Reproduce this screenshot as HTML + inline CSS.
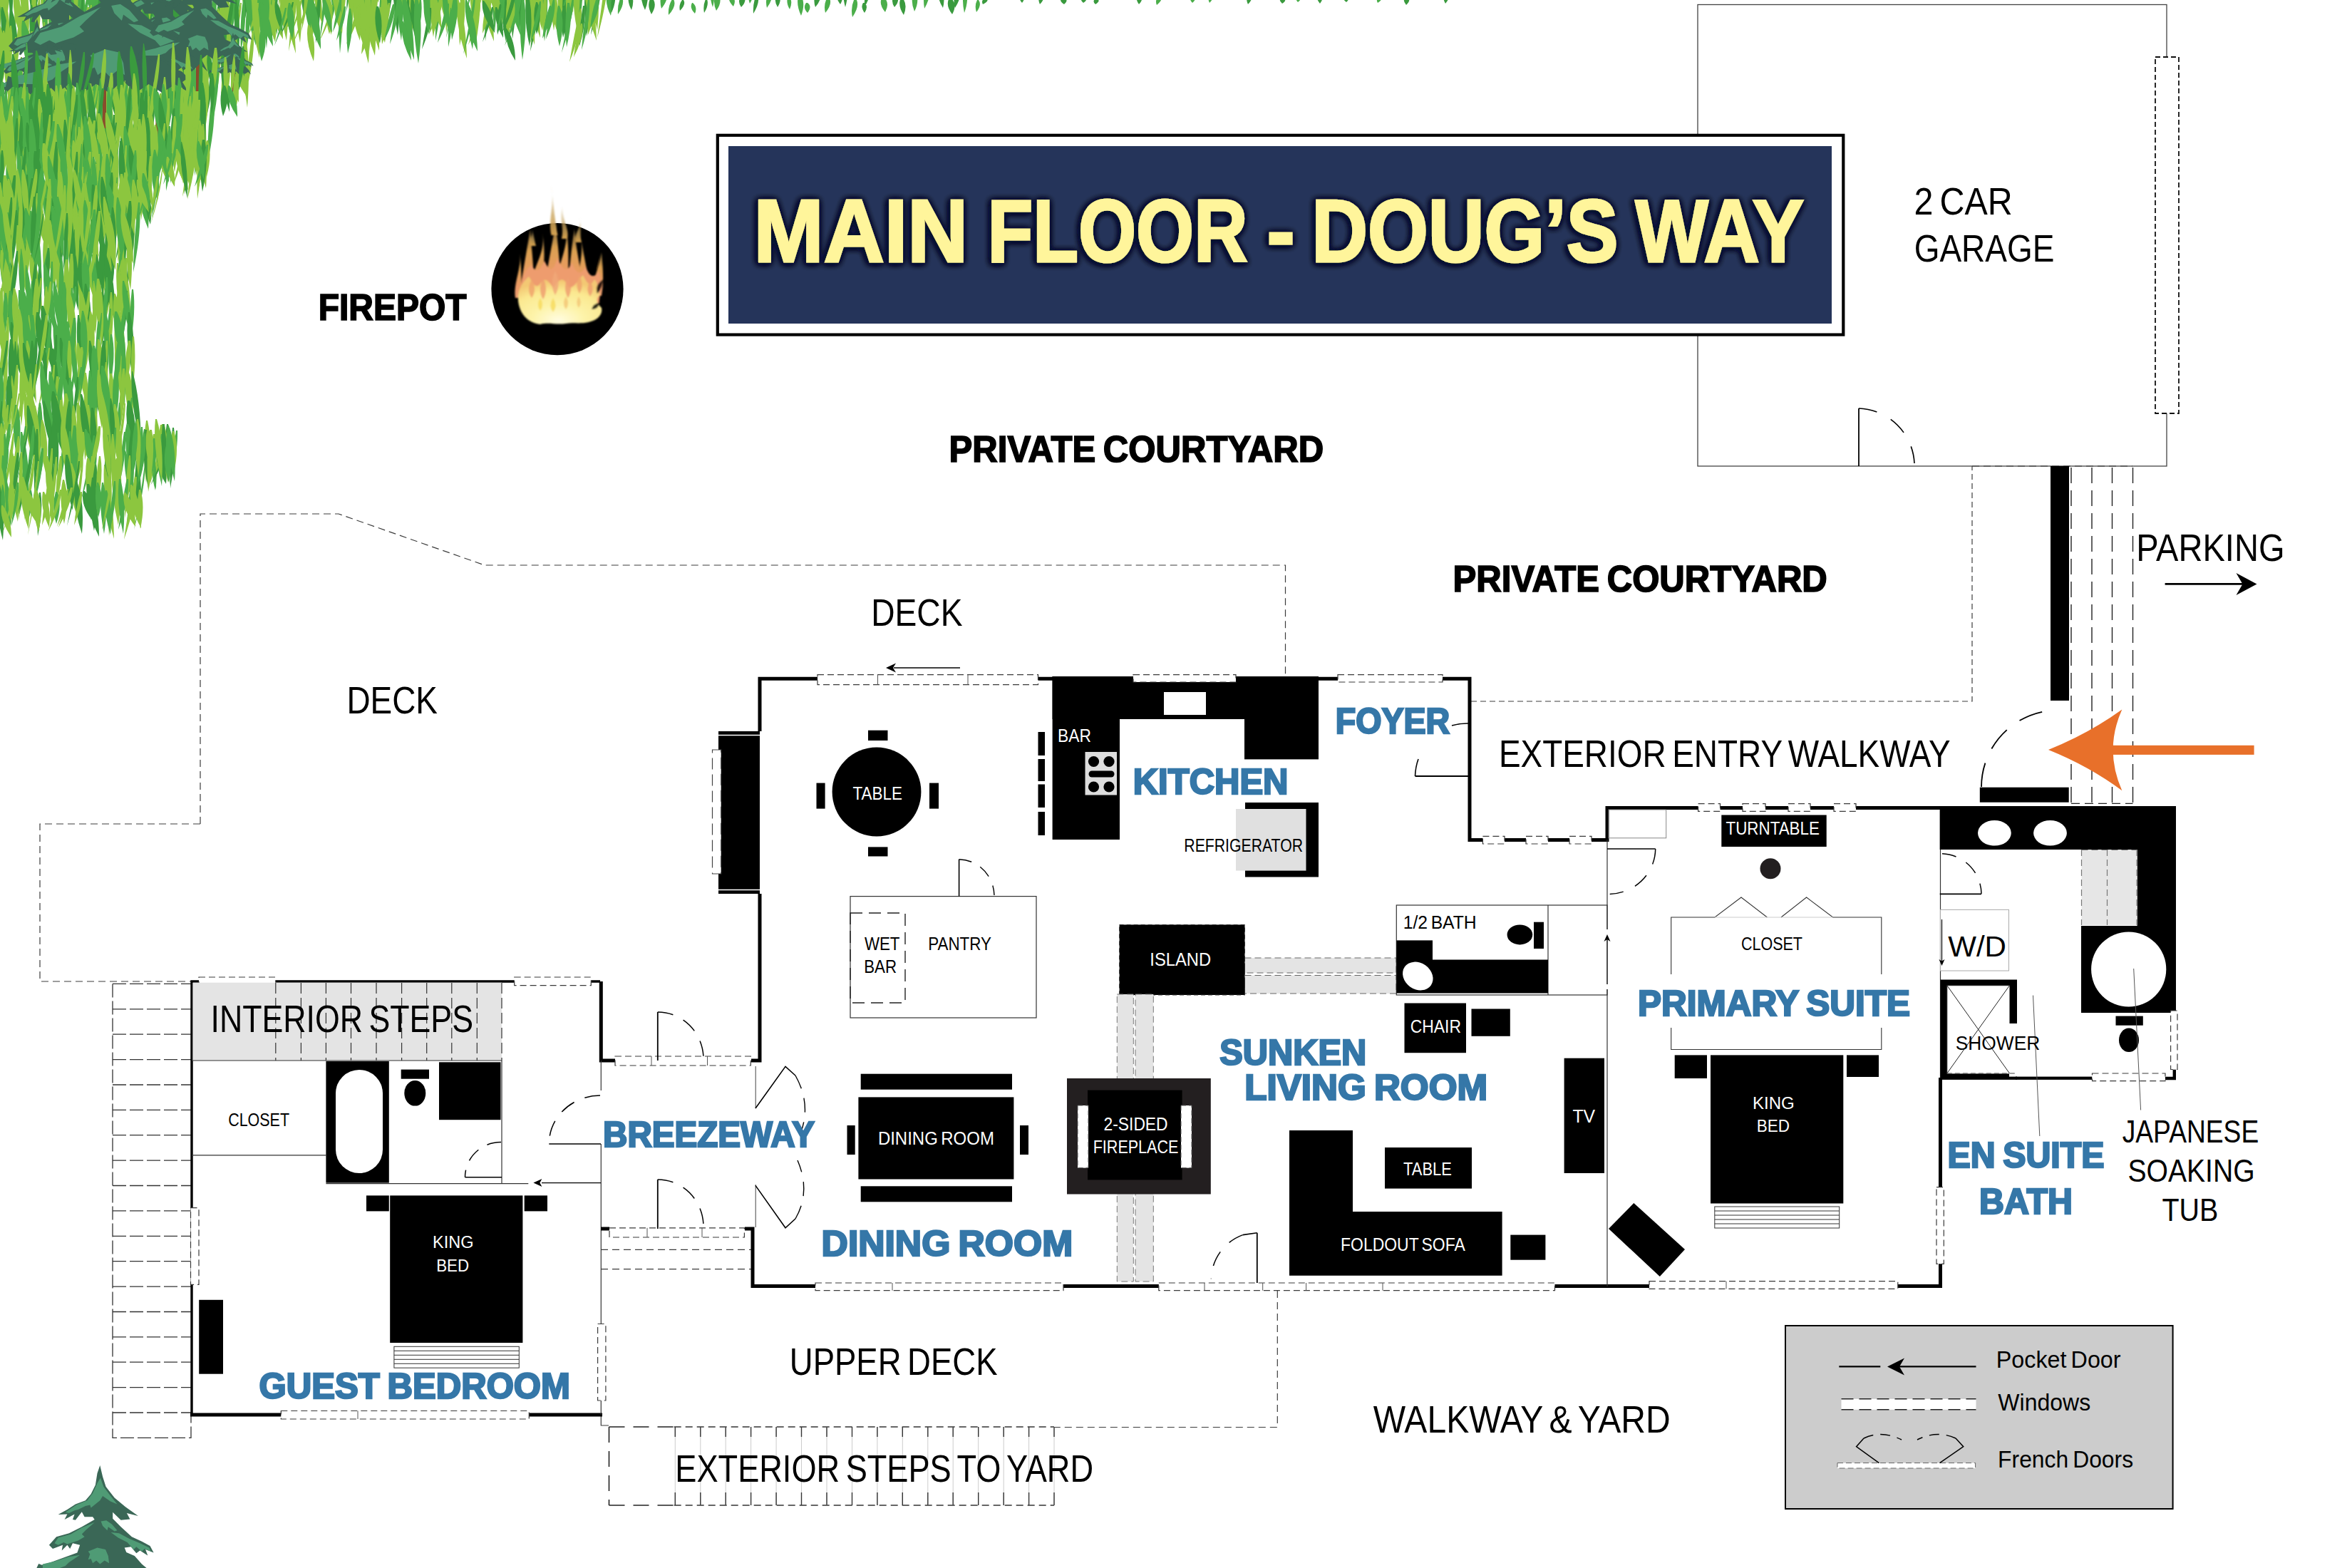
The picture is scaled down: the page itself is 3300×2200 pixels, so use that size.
<!DOCTYPE html>
<html><head><meta charset="utf-8"><title>Main Floor - Doug's Way</title>
<style>html,body{margin:0;padding:0;background:#fff}svg{display:block}text{font-family:"Liberation Sans", sans-serif}</style>
</head><body>
<svg width="3300" height="2200" viewBox="0 0 3300 2200">
<rect x="0.0" y="0.0" width="3300.0" height="2200.0" fill="#fff"/>
<path d="M28 -84q-6 35 -3 77q11 -46 5 -77zM34 -86q-5 36 7 80q6 -48 -5 -80zM45 -91q-4 43 -0 96q7 -58 2 -96zM52 -75q-7 41 -7 90q14 -54 9 -90zM58 -81q-5 39 16 86q1 -52 -14 -86zM92 -69q-5 38 2 85q7 -51 -0 -85zM105 -90q-5 44 -4 98q10 -59 6 -98zM158 -87q-5 44 9 98q5 -59 -6 -98zM164 -86q-5 32 -8 71q11 -43 10 -71zM183 -90q-5 39 11 87q3 -52 -9 -87zM207 -84q-6 45 6 99q7 -59 -3 -99zM238 -75q-4 44 -1 98q8 -59 3 -98zM244 -89q-4 40 10 88q3 -53 -8 -88zM249 -79q-6 36 0 80q9 -48 2 -80zM256 -80q-6 38 0 86q9 -51 2 -86zM274 -90q-5 38 -9 85q12 -51 11 -85zM288 -82q-3 47 16 104q-2 -62 -14 -104zM391 -69q-3 39 17 86q-2 -51 -15 -86zM418 -75q-8 37 -13 81q17 -49 15 -81zM438 -79q-3 37 12 83q0 -50 -10 -83zM444 -73q-7 42 -18 94q18 -56 20 -94zM460 -74q-5 38 7 83q5 -50 -5 -83zM473 -76q-5 32 -8 70q11 -42 10 -70zM516 -92q-4 37 12 82q1 -49 -10 -82zM546 -69q-4 44 15 98q1 -59 -13 -98zM553 -74q-6 32 -2 72q10 -43 4 -72zM586 -82q-6 45 -3 101q11 -61 6 -101zM618 -69q-5 34 7 75q5 -45 -4 -75zM635 -79q-6 43 -15 94q15 -57 17 -94zM656 -80q-6 43 -17 95q17 -57 19 -95zM667 -73q-7 38 -11 85q15 -51 13 -85zM738 -69q-6 46 -8 101q12 -61 10 -101zM743 -92q-6 43 -8 95q12 -57 10 -95zM758 -82q-6 47 -9 103q13 -62 11 -103zM776 -91q-6 43 -16 96q16 -58 17 -96zM810 -73q-6 47 -10 105q14 -63 12 -105zM822 -69q-5 36 -11 80q13 -48 13 -80zM852 -83q-6 40 -14 89q14 -54 16 -89z" fill="#4bae4a"/>
<path d="M5 -89q-4 33 12 73q2 -44 -10 -73zM12 -69q-6 46 -4 103q11 -62 6 -103zM24 -79q-6 41 -5 90q12 -54 7 -90zM40 -68q-7 45 -8 101q14 -60 10 -101zM63 -72q-4 43 18 95q-1 -57 -15 -95zM68 -88q-4 42 -1 93q7 -56 3 -93zM83 -69q-3 38 14 85q0 -51 -12 -85zM87 -78q-5 35 -1 78q8 -47 2 -78zM109 -84q-6 33 -12 72q14 -43 14 -72zM120 -83q-5 34 -5 75q10 -45 7 -75zM127 -90q-5 47 -1 105q9 -63 3 -105zM171 -69q-5 39 18 86q1 -51 -15 -86zM218 -86q-7 45 -10 101q16 -60 13 -101zM234 -81q-7 40 -17 89q18 -53 19 -89zM269 -72q-4 36 16 79q-0 -47 -14 -79zM280 -76q-4 46 8 101q3 -61 -6 -101zM295 -80q-5 45 -2 99q8 -59 4 -99zM300 -79q-8 37 -17 81q19 -49 20 -81zM316 -72q-4 34 15 75q-0 -45 -13 -75zM321 -90q-5 46 7 102q5 -61 -5 -102zM332 -81q-3 45 13 100q-1 -60 -11 -100zM338 -79q-6 46 -13 102q15 -61 15 -102zM343 -85q-5 34 -11 76q12 -45 12 -76zM350 -84q-6 36 -12 80q15 -48 14 -80zM355 -87q-6 32 2 71q8 -42 1 -71zM374 -91q-6 42 -5 92q11 -55 7 -92zM386 -85q-6 42 -9 93q13 -56 11 -93zM396 -92q-5 47 -5 104q10 -62 7 -104zM401 -92q-4 39 0 88q7 -53 2 -88zM406 -85q-6 38 -17 84q16 -50 19 -84zM433 -86q-5 46 7 101q5 -61 -5 -101zM450 -74q-7 40 -16 89q18 -53 18 -89zM467 -74q-5 33 -9 73q12 -44 11 -73zM479 -81q-5 36 -1 80q9 -48 3 -80zM487 -92q-5 35 16 77q2 -46 -13 -77zM498 -69q-4 41 1 90q6 -54 1 -90zM511 -81q-4 32 -0 71q6 -43 2 -71zM523 -70q-6 33 8 74q6 -45 -5 -74zM528 -83q-6 38 3 84q9 -50 -1 -84zM558 -81q-8 32 -13 72q18 -43 16 -72zM563 -76q-7 43 -9 96q15 -58 11 -96zM575 -81q-5 35 18 78q0 -47 -15 -78zM580 -86q-6 33 -15 73q16 -44 17 -73zM591 -69q-5 37 -8 82q11 -49 10 -82zM597 -85q-7 41 -10 92q16 -55 13 -92zM603 -71q-5 39 13 86q3 -51 -10 -86zM607 -78q-6 43 -1 95q11 -57 3 -95zM613 -69q-5 46 13 102q3 -61 -10 -102zM629 -89q-6 46 -7 102q13 -61 9 -102zM641 -85q-7 35 -18 78q19 -47 20 -78zM648 -86q-6 42 -1 93q11 -56 3 -93zM661 -87q-4 36 15 79q1 -47 -13 -79zM673 -72q-7 35 -7 77q14 -46 9 -77zM678 -80q-3 43 16 97q-1 -58 -14 -97zM683 -88q-4 38 16 85q0 -51 -14 -85zM688 -91q-6 47 -16 104q16 -62 18 -104zM695 -70q-4 45 18 101q-0 -61 -16 -101zM700 -76q-8 46 -17 103q19 -62 19 -103zM705 -85q-6 37 -18 82q17 -49 20 -82zM731 -70q-6 32 -16 71q15 -43 17 -71zM750 -86q-8 41 -17 92q20 -55 20 -92zM771 -73q-5 37 -5 81q10 -49 7 -81zM781 -86q-5 47 18 104q0 -63 -15 -104zM786 -86q-6 39 -2 87q10 -52 4 -87zM792 -76q-5 42 12 94q3 -56 -10 -94zM799 -74q-6 36 -5 80q11 -48 7 -80zM804 -78q-3 35 14 79q-1 -47 -12 -79zM836 -87q-5 33 4 74q6 -44 -2 -74zM841 -76q-4 35 4 77q5 -46 -2 -77zM845 -85q-7 37 -11 81q15 -49 14 -81z" fill="#8cc63f"/>
<path d="M19 -85q-6 36 -14 80q14 -48 15 -80zM73 -83q-5 44 -9 97q12 -58 11 -97zM77 -72q-4 39 14 86q1 -51 -12 -86zM98 -70q-7 41 -16 92q18 -55 18 -92zM114 -91q-5 34 -5 75q9 -45 7 -75zM132 -91q-7 36 -12 79q17 -48 15 -79zM138 -79q-7 34 -17 75q18 -45 19 -75zM145 -88q-5 42 -5 94q10 -57 7 -94zM151 -73q-6 44 -10 97q13 -58 12 -97zM176 -77q-5 35 -11 78q13 -47 12 -78zM190 -88q-6 44 -1 97q10 -58 3 -97zM196 -82q-7 44 -4 98q12 -59 6 -98zM202 -70q-5 34 -13 76q14 -46 14 -76zM212 -79q-6 32 5 70q7 -42 -3 -70zM223 -89q-5 41 -3 91q9 -54 5 -91zM228 -82q-4 39 15 86q1 -52 -12 -86zM262 -75q-4 40 16 89q-0 -53 -14 -89zM304 -90q-6 37 0 82q9 -49 2 -82zM311 -91q-5 47 -8 104q11 -62 10 -104zM328 -77q-3 38 16 85q-2 -51 -14 -85zM362 -80q-6 33 -2 74q11 -44 5 -74zM368 -84q-4 39 17 88q-0 -53 -15 -88zM379 -90q-6 43 -12 96q14 -58 14 -96zM412 -75q-5 40 6 89q6 -53 -3 -89zM422 -74q-6 45 5 99q8 -60 -2 -99zM427 -73q-4 40 12 88q2 -53 -10 -88zM455 -74q-7 36 -11 79q15 -48 13 -79zM494 -87q-6 47 -8 104q13 -62 10 -104zM505 -86q-6 40 7 88q6 -53 -5 -88zM534 -85q-3 32 12 72q0 -43 -10 -72zM539 -83q-6 36 -11 79q15 -48 13 -79zM569 -87q-6 38 -12 84q14 -50 14 -84zM624 -91q-5 44 2 97q7 -58 0 -97zM712 -83q-8 33 -11 74q16 -45 13 -74zM719 -83q-4 38 -1 85q7 -51 3 -85zM724 -82q-8 37 -17 83q19 -50 19 -83zM765 -72q-5 34 9 76q5 -46 -6 -76zM817 -72q-4 33 11 74q2 -44 -9 -74zM829 -86q-6 37 -2 83q11 -50 4 -83z" fill="#3a9a3e"/>
<path d="M13 -43q-4 33 3 74q5 -44 -1 -74zM41 -37q-4 43 14 95q1 -57 -12 -95zM54 -29q-6 34 -13 75q15 -45 15 -75zM77 -32q-5 39 4 86q6 -52 -2 -86zM84 -43q-5 38 -5 84q9 -50 7 -84zM97 -36q-5 33 14 73q2 -44 -12 -73zM155 -45q-5 47 1 104q7 -62 1 -104zM180 -43q-6 38 -13 84q15 -51 15 -84zM229 -49q-4 47 5 105q5 -63 -3 -105zM243 -30q-7 46 -7 102q14 -61 10 -102zM266 -46q-2 32 16 70q-3 -42 -15 -70zM282 -51q-6 42 -16 93q15 -56 17 -93zM289 -36q-6 35 1 77q10 -46 1 -77zM314 -34q-8 37 -16 82q19 -49 19 -82zM320 -34q-6 41 -8 91q13 -55 10 -91zM348 -48q-7 44 -10 99q16 -59 12 -99zM365 -48q-5 36 2 81q7 -48 0 -81zM388 -34q-6 42 -8 94q13 -57 10 -94zM419 -46q-8 36 -18 79q19 -47 20 -79zM445 -52q-6 34 -1 75q10 -45 3 -75zM507 -32q-4 44 6 99q4 -59 -4 -99zM549 -41q-7 41 -11 90q16 -54 14 -90zM554 -35q-5 38 4 84q6 -50 -2 -84zM569 -40q-5 45 2 99q7 -59 0 -99zM704 -31q-5 40 6 90q5 -54 -4 -90zM720 -48q-6 46 -1 103q10 -62 3 -103zM724 -41q-3 47 11 103q1 -62 -9 -103zM757 -29q-8 46 -13 101q18 -61 15 -101zM790 -43q-4 44 3 98q6 -59 -1 -98zM823 -32q-6 37 -0 83q10 -50 3 -83zM836 -48q-6 33 0 73q10 -44 2 -73zM841 -29q-7 35 -12 78q16 -47 14 -78z" fill="#3a9a3e"/>
<path d="M1 -52q-7 43 -3 96q12 -58 6 -96zM17 -42q-3 32 11 72q1 -43 -9 -72zM36 -37q-7 32 -7 72q14 -43 9 -72zM108 -36q-5 36 11 80q4 -48 -8 -80zM113 -44q-6 45 -9 99q14 -59 11 -99zM120 -40q-3 39 17 86q-2 -52 -15 -86zM127 -42q-6 35 -11 78q14 -47 13 -78zM132 -46q-4 37 11 81q2 -49 -9 -81zM136 -39q-7 45 -2 100q11 -60 4 -100zM167 -51q-6 41 -5 92q11 -55 7 -92zM174 -45q-4 32 2 72q5 -43 -1 -72zM196 -38q-5 46 3 101q7 -61 -1 -101zM213 -42q-5 40 5 88q6 -53 -3 -88zM225 -50q-4 37 15 83q-0 -50 -13 -83zM237 -37q-6 46 -16 103q16 -62 18 -103zM303 -34q-7 46 -15 102q18 -61 17 -102zM325 -51q-4 40 -1 88q7 -53 3 -88zM331 -42q-6 45 -8 99q13 -59 10 -99zM336 -50q-5 43 -5 96q9 -58 7 -96zM343 -40q-4 47 16 104q-0 -62 -14 -104zM360 -42q-5 46 9 102q5 -61 -6 -102zM371 -35q-4 46 3 103q5 -62 -2 -103zM376 -41q-4 41 13 90q1 -54 -11 -90zM426 -36q-4 41 12 91q2 -54 -10 -91zM458 -47q-5 46 -9 102q12 -61 11 -102zM471 -44q-7 32 -5 71q12 -42 7 -71zM477 -30q-4 47 0 105q7 -63 1 -105zM501 -47q-3 46 11 103q1 -62 -9 -103zM520 -28q-5 35 7 78q6 -47 -4 -78zM537 -29q-6 33 -6 73q12 -44 8 -73zM558 -45q-5 46 5 102q6 -61 -3 -102zM593 -50q-5 43 11 96q4 -57 -8 -96zM611 -43q-5 35 -8 79q11 -47 9 -79zM617 -47q-7 47 -6 104q13 -63 8 -104zM639 -36q-6 40 -13 89q15 -53 15 -89zM664 -30q-5 32 3 71q7 -42 -1 -71zM682 -31q-4 40 -1 89q7 -54 3 -89zM692 -41q-4 39 2 87q6 -52 -1 -87zM699 -49q-5 37 7 83q6 -50 -5 -83zM709 -36q-3 32 14 71q-1 -43 -12 -71zM714 -32q-4 36 16 81q-0 -49 -14 -81zM730 -45q-7 36 -6 80q13 -48 8 -80zM763 -39q-5 44 1 97q8 -58 1 -97zM780 -42q-6 40 -16 89q16 -53 18 -89zM802 -45q-6 33 -17 73q17 -44 19 -73zM814 -38q-4 36 -2 80q8 -48 4 -80zM846 -46q-2 24 15 54q-2 -32 -13 -54z" fill="#4bae4a"/>
<path d="M-4 -36q-3 38 18 84q-2 -50 -16 -84zM8 -29q-5 42 -3 93q10 -56 5 -93zM25 -48q-5 43 -5 96q10 -57 7 -96zM29 -33q-5 38 11 83q4 -50 -8 -83zM47 -38q-5 41 -1 92q8 -55 3 -92zM59 -36q-6 45 6 101q6 -61 -4 -101zM65 -36q-5 39 10 86q4 -52 -8 -86zM70 -48q-5 38 0 84q8 -50 2 -84zM90 -30q-5 42 -13 93q14 -56 15 -93zM101 -49q-5 33 7 72q5 -43 -5 -72zM143 -34q-4 35 13 79q1 -47 -11 -79zM149 -50q-5 37 -6 83q10 -50 8 -83zM162 -34q-5 46 8 102q5 -61 -6 -102zM185 -41q-5 32 7 70q6 -42 -5 -70zM189 -29q-4 42 11 93q1 -56 -9 -93zM202 -51q-5 34 -16 76q15 -45 17 -76zM207 -36q-4 46 4 102q4 -61 -2 -102zM218 -35q-4 33 18 72q-1 -43 -16 -72zM248 -32q-3 39 15 88q-1 -53 -13 -88zM253 -38q-5 46 -4 102q9 -61 6 -102zM260 -39q-5 46 12 102q4 -61 -10 -102zM272 -48q-5 38 2 84q7 -50 -0 -84zM277 -35q-3 41 17 92q-3 -55 -15 -92zM295 -47q-6 43 -9 95q13 -57 11 -95zM308 -45q-6 34 5 75q7 -45 -3 -75zM355 -49q-6 39 2 87q9 -52 0 -87zM381 -46q-7 39 -9 86q14 -52 11 -86zM394 -38q-6 43 8 95q6 -57 -5 -95zM399 -28q-3 47 16 103q-2 -62 -15 -103zM405 -45q-6 35 -13 77q14 -46 14 -77zM410 -31q-7 33 -8 74q15 -44 10 -74zM415 -28q-6 45 -10 100q14 -60 12 -100zM433 -48q-6 42 -10 92q14 -55 12 -92zM438 -46q-4 36 14 79q1 -47 -12 -79zM451 -44q-5 42 14 93q2 -56 -12 -93zM465 -41q-4 35 12 77q1 -46 -11 -77zM483 -51q-5 42 -4 92q10 -55 6 -92zM490 -49q-5 41 3 92q8 -55 -1 -92zM496 -29q-5 47 18 103q1 -62 -15 -103zM513 -33q-5 47 5 105q7 -63 -3 -105zM526 -36q-7 44 -5 98q13 -59 8 -98zM532 -48q-3 41 14 92q-1 -55 -13 -92zM542 -50q-7 41 -10 90q15 -54 13 -90zM563 -49q-6 33 6 73q6 -44 -4 -73zM575 -34q-4 35 4 79q5 -47 -2 -79zM581 -41q-6 42 -7 94q12 -57 9 -94zM588 -36q-5 42 -5 94q10 -56 7 -94zM599 -49q-5 34 -3 75q9 -45 5 -75zM606 -30q-6 37 2 82q9 -49 0 -82zM621 -29q-7 35 -13 77q17 -46 16 -77zM629 -38q-6 38 -3 84q10 -50 6 -84zM633 -34q-6 32 -1 72q10 -43 3 -72zM646 -37q-4 33 5 73q4 -44 -3 -73zM653 -30q-6 27 -14 60q16 -36 16 -60zM660 -31q-4 34 8 75q3 -45 -6 -75zM670 -35q-6 44 -3 99q11 -59 5 -99zM675 -36q-4 42 18 94q-1 -56 -16 -94zM687 -31q-4 32 18 70q-1 -42 -15 -70zM737 -35q-4 44 13 98q2 -59 -11 -98zM741 -46q-4 45 17 99q-1 -59 -15 -99zM747 -35q-5 44 -2 97q8 -58 4 -97zM752 -33q-5 34 9 76q5 -45 -7 -76zM768 -45q-4 44 17 98q-0 -59 -15 -98zM774 -52q-6 43 3 95q9 -57 -1 -95zM785 -47q-5 45 0 99q8 -59 2 -99zM797 -31q-6 35 -0 79q10 -47 3 -79zM807 -38q-6 35 2 77q9 -46 0 -77zM819 -43q-3 45 18 100q-2 -60 -16 -100zM831 -50q-6 42 7 92q6 -55 -5 -92zM852 -44q-7 43 -14 97q16 -58 16 -97z" fill="#8cc63f"/>
<path d="M-4 -3q-6 38 -1 85q10 -51 3 -85zM7 8q-7 46 -12 102q16 -61 15 -102zM19 -4q-2 32 17 71q-3 -42 -15 -71zM24 -8q-4 37 8 83q3 -50 -7 -83zM31 -6q-5 38 -3 85q9 -51 5 -85zM37 -9q-7 36 -9 80q14 -48 11 -80zM49 11q-3 45 9 99q2 -60 -7 -99zM54 -2q-5 35 -4 78q9 -47 6 -78zM67 -5q-4 38 16 86q1 -51 -14 -86zM83 3q-4 34 6 76q3 -46 -4 -76zM95 11q-4 37 5 82q5 -49 -3 -82zM108 9q-6 32 3 71q8 -43 -0 -71zM122 10q-6 44 3 97q8 -58 -0 -97zM127 7q-7 43 -17 96q18 -57 19 -96zM146 -4q-5 39 -2 86q8 -52 4 -86zM151 6q-5 36 3 80q7 -48 -1 -80zM167 -11q-2 41 17 91q-3 -55 -15 -91zM184 -9q-7 45 -18 100q19 -60 20 -100zM189 -2q-7 35 -10 77q15 -46 12 -77zM196 11q-2 39 17 86q-3 -52 -16 -86zM208 -6q-6 33 -18 74q16 -44 19 -74zM238 8q-5 46 -1 101q8 -61 3 -101zM253 3q-4 32 2 72q5 -43 -0 -72zM267 4q-7 42 -3 94q12 -56 6 -94zM284 -9q-5 33 2 74q7 -44 0 -74zM292 3q-7 34 -8 75q14 -45 10 -75zM305 12q-3 42 9 93q1 -56 -7 -93zM310 -3q-6 40 -2 89q11 -53 5 -89zM317 -6q-6 37 4 82q8 -49 -1 -82zM337 4q-7 38 -17 85q17 -51 19 -85zM355 -10q-5 41 9 91q4 -54 -7 -91zM361 4q-6 20 -12 44q14 -26 14 -44zM378 5q-5 24 8 54q5 -32 -6 -54zM382 -2q-4 26 15 57q0 -34 -13 -57zM394 2q-5 24 -11 53q13 -32 13 -53zM417 -12q-4 32 4 72q5 -43 -3 -72zM423 -6q-6 26 -16 58q15 -35 18 -58zM428 9q-6 24 -18 54q17 -33 20 -54zM440 5q-5 24 -4 54q10 -33 6 -54zM460 -3q-6 23 2 51q9 -31 1 -51zM465 7q-6 23 -17 51q17 -31 19 -51zM470 1q-4 21 10 46q3 -28 -8 -46zM496 4q-3 24 9 53q2 -32 -7 -53zM503 5q-8 26 -17 57q19 -34 19 -57zM507 -6q-5 43 10 95q4 -57 -8 -95zM515 6q-5 33 11 72q4 -43 -8 -72zM521 -2q-4 33 11 73q1 -44 -10 -73zM533 10q-5 22 7 50q6 -30 -4 -50zM540 10q-7 23 -4 52q13 -31 6 -52zM545 4q-7 21 -10 48q14 -29 12 -48zM609 -6q-3 21 10 46q1 -27 -8 -46zM616 3q-6 20 -15 46q16 -27 17 -46zM641 -5q-3 39 14 87q-1 -52 -13 -87zM647 2q-5 28 -2 62q8 -37 4 -62zM672 6q-7 26 -15 57q17 -34 17 -57zM684 3q-7 20 -7 44q13 -26 9 -44zM713 -7q-6 28 -1 63q10 -38 3 -63zM717 -9q-6 25 0 55q10 -33 2 -55zM745 -2q-5 22 2 49q8 -29 -0 -49zM764 -6q-5 22 -2 50q8 -30 4 -50zM809 11q-3 19 7 43q2 -26 -6 -43zM814 12q-8 34 -15 75q18 -45 17 -75zM830 -3q-7 24 -5 52q13 -31 8 -52z" fill="#8cc63f"/>
<path d="M2 10q-4 37 11 83q2 -50 -9 -83zM14 11q-5 37 10 83q4 -50 -8 -83zM43 7q-5 34 5 75q6 -45 -3 -75zM89 8q-6 32 1 70q9 -42 2 -70zM115 -6q-5 47 -5 104q9 -62 7 -104zM139 -6q-6 32 9 71q6 -42 -6 -71zM173 2q-5 45 12 99q3 -60 -10 -99zM203 3q-6 41 4 92q8 -55 -2 -92zM213 11q-6 37 -16 82q16 -49 18 -82zM243 -2q-4 34 17 77q-1 -46 -15 -77zM248 -6q-5 46 -6 103q11 -62 8 -103zM272 -10q-3 41 12 91q1 -55 -10 -91zM325 -6q-8 46 -17 101q20 -61 20 -101zM330 -2q-4 40 4 89q5 -53 -2 -89zM386 2q-3 19 10 43q2 -26 -8 -43zM410 3q-6 21 -17 47q17 -28 19 -47zM447 -12q-5 33 -4 73q9 -44 6 -73zM528 9q-5 23 5 52q6 -31 -2 -52zM571 5q-6 27 3 61q8 -37 -1 -61zM577 -4q-4 32 10 71q2 -43 -8 -71zM603 11q-6 26 -11 58q15 -35 13 -58zM677 1q-3 20 17 45q-1 -27 -15 -45zM690 10q-6 22 -13 49q14 -30 15 -49zM695 10q-3 19 11 43q1 -26 -9 -43zM701 6q-5 19 -3 43q9 -26 5 -43zM721 -12q-8 26 -16 57q19 -34 18 -57zM739 -10q-5 34 4 75q6 -45 -2 -75zM752 3q-6 20 1 45q9 -27 1 -45zM790 8q-5 20 0 45q8 -27 2 -45zM818 8q-5 26 -5 57q10 -34 7 -57z" fill="#3a9a3e"/>
<path d="M61 -1q-4 47 5 104q4 -63 -3 -104zM72 8q-6 38 -11 84q14 -51 13 -84zM77 9q-4 34 12 76q2 -46 -10 -76zM100 -6q-4 44 6 97q4 -58 -4 -97zM132 -5q-7 33 -12 73q15 -44 14 -73zM155 -7q-6 45 -10 101q14 -61 12 -101zM161 3q-8 38 -17 84q20 -50 20 -84zM178 -8q-6 38 -6 84q12 -50 8 -84zM220 -1q-4 33 16 73q0 -44 -13 -73zM227 6q-6 46 -8 102q13 -61 10 -102zM232 -3q-7 39 -10 86q15 -52 12 -86zM259 6q-7 40 -5 88q13 -53 8 -88zM279 3q-4 47 5 105q5 -63 -3 -105zM299 -4q-5 42 -5 94q10 -57 7 -94zM341 0q-5 33 -3 72q9 -43 5 -72zM348 -2q-5 34 -3 75q9 -45 5 -75zM366 3q-4 28 17 62q-1 -37 -15 -62zM373 -11q-7 35 -3 77q12 -46 6 -77zM400 11q-6 24 -15 53q15 -32 17 -53zM405 4q-6 23 5 51q7 -31 -3 -51zM433 -10q-5 35 17 79q1 -47 -15 -79zM453 -4q-3 22 13 50q0 -30 -11 -50zM477 -2q-6 21 -10 47q13 -28 12 -47zM483 9q-6 22 -11 48q14 -29 13 -48zM490 12q-6 28 -2 63q10 -38 4 -63zM551 6q-7 23 -12 51q16 -31 15 -51zM557 -0q-6 28 -10 62q14 -37 12 -62zM565 -9q-4 42 16 93q0 -56 -14 -93zM583 -7q-6 43 4 96q8 -58 -2 -96zM589 0q-6 28 -6 62q11 -37 8 -62zM596 -7q-5 25 6 55q5 -33 -4 -55zM622 -12q-4 23 7 52q4 -31 -5 -52zM627 5q-7 25 -13 55q17 -33 16 -55zM632 11q-4 25 -3 55q8 -33 4 -55zM637 -7q-7 28 -3 63q12 -38 6 -63zM653 -0q-3 32 17 72q-1 -43 -15 -72zM658 11q-4 26 5 58q5 -35 -3 -58zM665 -5q-6 37 -15 81q16 -49 17 -81zM707 -9q-5 25 -10 55q12 -33 12 -55zM726 7q-7 26 -18 57q18 -34 20 -57zM732 -2q-5 39 1 86q8 -52 2 -86zM757 2q-7 26 -13 58q16 -35 15 -58zM771 8q-7 21 -10 46q15 -28 12 -46zM776 -1q-7 25 -10 56q15 -34 12 -56zM783 8q-6 26 2 57q9 -34 0 -57zM796 4q-5 28 -1 62q9 -37 4 -62zM803 -3q-7 35 -15 77q16 -46 17 -77zM825 0q-6 32 -9 70q13 -42 11 -70zM837 -3q-7 19 -9 43q15 -26 12 -43z" fill="#4bae4a"/>
<path d="M-1 37q-5 34 6 76q6 -46 -4 -76zM4 43q-4 45 13 100q1 -60 -11 -100zM9 29q-6 35 3 78q8 -47 -1 -78zM14 36q-6 39 -4 86q11 -52 6 -86zM21 52q-4 37 -1 82q7 -49 3 -82zM25 40q-5 42 -8 93q12 -56 10 -93zM38 43q-6 45 5 101q7 -60 -2 -101zM43 44q-5 44 16 98q1 -59 -13 -98zM61 31q-5 35 -5 79q10 -47 7 -79zM68 35q-5 39 2 86q7 -52 -0 -86zM86 49q-6 37 -3 82q11 -49 5 -82zM91 29q-6 46 -9 101q12 -61 11 -101zM108 31q-7 44 -6 98q13 -59 8 -98zM114 33q-4 45 15 101q1 -60 -13 -101zM121 36q-4 42 6 93q4 -56 -4 -93zM136 30q-6 41 -6 91q13 -55 8 -91zM160 51q-5 39 1 86q7 -52 1 -86zM169 31q-6 43 -17 96q16 -58 19 -96zM175 37q-3 40 16 89q-2 -54 -14 -89zM191 46q-8 37 -14 81q18 -49 17 -81zM197 42q-8 38 -16 84q19 -50 18 -84zM204 34q-7 46 -10 103q14 -62 12 -103zM210 43q-4 35 9 78q2 -47 -8 -78zM242 29q-7 45 -7 100q15 -60 10 -100zM249 46q-8 32 -13 70q17 -42 15 -70zM266 31q-5 39 -3 88q9 -53 4 -88zM273 40q-8 36 -14 81q18 -49 16 -81zM283 36q-4 37 15 82q0 -49 -13 -82zM291 32q-7 45 -8 101q14 -61 11 -101zM295 41q-6 32 -3 72q10 -43 5 -72zM307 36q-6 45 -4 101q11 -60 6 -101zM319 43q-7 41 -9 91q15 -55 11 -91zM328 41q-4 42 5 94q5 -57 -3 -94zM342 46q-4 47 5 105q5 -63 -3 -105zM354 43q-6 41 -10 92q14 -55 12 -92zM432 35q-4 23 8 51q4 -31 -6 -51zM515 34q-7 19 -8 42q15 -25 11 -42zM815 33q-7 21 -10 47q15 -28 12 -47z" fill="#8cc63f"/>
<path d="M31 29q-5 40 18 88q1 -53 -15 -88zM50 36q-5 43 5 96q6 -58 -3 -96zM56 52q-5 32 -6 72q11 -43 8 -72zM78 32q-7 46 -15 102q17 -61 17 -102zM97 33q-5 43 -4 95q9 -57 5 -95zM104 51q-4 42 8 93q2 -56 -7 -93zM127 40q-6 32 -6 72q12 -43 8 -72zM141 38q-3 44 11 97q0 -58 -10 -97zM147 36q-5 40 4 89q7 -54 -1 -89zM223 36q-7 43 -8 96q14 -58 10 -96zM230 39q-5 34 4 76q7 -45 -1 -76zM254 50q-5 42 -6 94q10 -56 7 -94zM261 47q-5 47 -10 104q12 -63 11 -104zM279 46q-7 34 -13 76q16 -46 15 -76zM300 41q-6 42 2 94q8 -56 1 -94zM366 41q-6 20 1 45q10 -27 2 -45zM564 30q-3 25 13 55q-1 -33 -11 -55z" fill="#4bae4a"/>
<path d="M-6 49q-4 37 0 82q7 -49 2 -82zM73 41q-4 36 8 81q3 -48 -6 -81zM132 42q-2 39 15 86q-2 -52 -14 -86zM152 35q-5 43 10 95q4 -57 -8 -95zM164 37q-5 39 10 87q4 -52 -8 -87zM180 29q-8 43 -12 96q17 -57 15 -96zM185 36q-5 47 5 104q6 -63 -3 -104zM217 49q-7 35 -12 78q15 -47 15 -78zM237 47q-7 35 -5 77q13 -46 8 -77zM314 31q-5 38 -3 84q10 -50 5 -84zM324 47q-3 35 12 77q-0 -46 -11 -77zM710 40q-3 20 13 45q-0 -27 -12 -45z" fill="#3a9a3e"/>
<path d="M35 84q-4 36 8 80q3 -48 -6 -80zM61 80q-3 36 15 80q-1 -48 -13 -80zM65 74q-6 41 5 91q8 -54 -2 -91zM76 76q-3 47 15 104q-0 -62 -13 -104zM82 73q-4 32 14 72q1 -43 -12 -72zM93 75q-4 44 7 97q4 -58 -5 -97zM135 82q-8 45 -15 101q18 -61 17 -101zM149 87q-4 33 12 74q1 -44 -10 -74zM185 84q-6 46 -8 103q12 -62 10 -103zM197 82q-5 46 -5 102q10 -61 7 -102zM221 81q-6 47 -10 104q14 -62 12 -104zM238 84q-7 38 -3 84q12 -50 6 -84zM255 70q-3 33 9 74q2 -44 -8 -74zM291 77q-4 26 13 58q1 -35 -11 -58zM297 90q-5 33 -7 73q11 -44 8 -73zM311 80q-4 35 11 77q1 -46 -9 -77zM342 89q-8 22 -14 49q18 -30 17 -49z" fill="#3a9a3e"/>
<path d="M1 72q-6 46 -6 101q11 -61 8 -101zM7 75q-5 44 17 99q1 -59 -14 -99zM14 91q-4 44 13 98q2 -59 -11 -98zM29 80q-5 43 -3 96q9 -58 5 -96zM41 85q-6 32 -0 72q9 -43 3 -72zM53 80q-4 41 16 91q-1 -55 -14 -91zM99 84q-7 41 -3 92q12 -55 6 -92zM111 69q-3 38 14 84q-1 -51 -12 -84zM117 70q-7 42 -3 93q12 -56 6 -93zM123 71q-5 38 13 84q3 -50 -10 -84zM127 82q-6 40 -7 89q13 -53 9 -89zM154 85q-3 39 13 87q0 -52 -11 -87zM168 74q-4 33 3 72q5 -43 -1 -72zM173 88q-5 43 6 96q6 -57 -4 -96zM178 75q-6 45 -14 100q15 -60 15 -100zM202 91q-7 32 -14 71q16 -42 16 -71zM214 80q-5 32 -1 71q9 -43 3 -71zM226 73q-5 47 8 104q5 -62 -5 -104zM233 75q-3 36 16 79q-1 -48 -14 -79zM248 83q-5 38 14 85q3 -51 -11 -85zM259 87q-5 44 9 97q5 -58 -6 -97zM279 82q-5 40 5 89q6 -53 -2 -89zM284 78q-5 33 7 74q6 -44 -5 -74zM318 71q-7 34 -2 76q11 -45 5 -76zM324 91q-3 24 11 53q0 -32 -10 -53zM331 89q-4 21 15 46q1 -28 -13 -46z" fill="#8cc63f"/>
<path d="M18 82q-5 45 -9 100q12 -60 11 -100zM25 86q-6 42 8 94q6 -56 -6 -94zM48 75q-5 45 -4 101q9 -61 6 -101zM70 91q-6 40 -15 89q16 -54 17 -89zM86 90q-5 36 7 81q5 -48 -4 -81zM105 90q-7 44 -14 98q16 -59 16 -98zM142 72q-8 43 -12 95q17 -57 15 -95zM161 73q-7 38 -8 84q14 -51 10 -84zM191 83q-5 46 10 101q4 -61 -7 -101zM208 91q-5 44 0 97q8 -58 2 -97zM242 74q-5 37 6 83q5 -50 -4 -83zM266 69q-4 45 10 99q2 -60 -8 -99zM272 88q-5 32 -3 71q9 -42 5 -71zM304 76q-5 40 -4 88q10 -53 6 -88z" fill="#4bae4a"/>
<path d="M2 109q-5 35 -8 78q12 -47 10 -78zM13 120q-6 43 -12 95q15 -57 14 -95zM37 125q-4 35 1 77q6 -46 0 -77zM42 108q-4 32 7 70q3 -42 -5 -70zM54 116q-5 34 1 75q7 -45 1 -75zM60 112q-6 36 -15 79q15 -47 17 -79zM66 125q-4 42 11 94q2 -57 -9 -94zM72 109q-6 34 2 77q9 -46 0 -77zM88 111q-5 33 2 73q8 -44 -0 -73zM95 114q-7 33 -9 74q14 -44 12 -74zM101 113q-3 43 8 95q2 -57 -6 -95zM107 113q-4 42 14 94q1 -57 -12 -94zM124 120q-6 41 -16 91q16 -55 18 -91zM138 127q-6 37 1 83q9 -50 1 -83zM142 124q-6 38 -9 84q13 -50 11 -84zM148 117q-5 39 10 87q4 -52 -7 -87zM160 111q-5 32 15 71q2 -43 -12 -71zM166 126q-3 36 9 80q2 -48 -7 -80zM171 109q-2 38 17 84q-3 -50 -15 -84zM185 118q-3 34 10 76q2 -46 -8 -76zM196 122q-4 46 16 102q-1 -61 -14 -102zM207 114q-6 44 -9 98q13 -59 11 -98zM224 131q-4 44 14 97q1 -58 -12 -97zM231 117q-5 44 -5 99q10 -59 7 -99zM250 124q-7 43 -9 96q15 -58 11 -96zM257 128q-6 34 -6 75q12 -45 8 -75zM271 121q-3 42 13 93q-1 -56 -12 -93zM276 113q-5 44 13 97q2 -58 -11 -97zM281 127q-6 33 -17 74q17 -44 19 -74zM286 119q-7 33 -11 72q15 -43 13 -72z" fill="#8cc63f"/>
<path d="M19 126q-3 34 17 76q-1 -45 -15 -76zM31 128q-6 36 4 79q8 -47 -1 -79zM47 111q-8 43 -17 95q20 -57 20 -95zM79 127q-7 38 -10 83q15 -50 12 -83zM83 127q-4 41 7 91q3 -54 -6 -91zM113 127q-5 36 -10 79q12 -47 12 -79zM202 113q-7 43 -13 95q17 -57 16 -95zM244 127q-3 43 15 96q-1 -58 -13 -96z" fill="#3a9a3e"/>
<path d="M-3 124q-6 35 -5 78q12 -47 7 -78zM7 131q-4 38 3 85q5 -51 -1 -85zM26 113q-4 41 17 92q0 -55 -14 -92zM120 116q-7 47 -7 104q13 -62 9 -104zM132 111q-6 45 -11 101q14 -60 13 -101zM155 119q-7 46 -14 103q17 -62 16 -103zM178 112q-6 34 -15 75q15 -45 17 -75zM189 114q-8 35 -14 78q18 -47 16 -78zM214 112q-7 34 -6 75q13 -45 9 -75zM220 129q-4 34 12 77q2 -46 -10 -77zM237 118q-3 33 15 74q-1 -44 -13 -74zM264 131q-8 45 -13 100q17 -60 16 -100zM298 129q-7 46 -7 101q13 -61 9 -101z" fill="#4bae4a"/>
<path d="M47 150q-7 44 -6 97q13 -58 8 -97zM59 162q-4 33 15 74q-0 -44 -13 -74zM131 151q-6 34 -12 76q14 -45 14 -76zM165 158q-6 42 -17 93q16 -56 19 -93zM183 164q-5 32 -6 71q11 -43 8 -71zM190 157q-7 43 -15 95q16 -57 17 -95zM201 158q-5 40 -3 89q10 -54 5 -89zM235 155q-7 44 -14 97q16 -58 16 -97zM249 149q-6 33 -13 74q15 -44 15 -74zM254 150q-6 41 -10 90q14 -54 12 -90zM279 154q-6 42 -6 93q11 -56 8 -93z" fill="#4bae4a"/>
<path d="M5 149q-4 40 13 88q1 -53 -11 -88zM9 157q-6 38 -4 85q11 -51 6 -85zM14 152q-5 46 2 102q7 -61 0 -102zM18 162q-5 44 -7 98q11 -59 9 -98zM24 154q-5 39 8 86q5 -52 -6 -86zM42 170q-6 47 -17 105q16 -63 18 -105zM52 152q-4 44 7 97q4 -58 -5 -97zM67 167q-5 43 11 96q3 -57 -9 -96zM71 153q-4 32 9 72q4 -43 -7 -72zM76 154q-5 35 -2 77q8 -46 4 -77zM83 161q-5 42 -3 93q8 -56 5 -93zM88 149q-6 35 -6 79q12 -47 8 -79zM95 153q-6 33 -16 72q15 -43 18 -72zM108 169q-4 39 3 86q5 -51 -2 -86zM119 167q-8 44 -15 98q18 -59 18 -98zM124 168q-6 46 -12 103q14 -62 14 -103zM136 154q-6 35 6 78q7 -47 -3 -78zM143 169q-6 33 -12 73q14 -44 14 -73zM154 161q-5 47 12 103q3 -62 -10 -103zM170 159q-4 36 5 80q4 -48 -3 -80zM176 161q-6 43 2 95q9 -57 1 -95zM197 154q-4 47 8 104q3 -63 -6 -104zM208 156q-4 45 11 100q2 -60 -9 -100zM219 171q-5 34 -3 75q9 -45 5 -75zM224 156q-5 34 8 75q5 -45 -5 -75zM230 149q-5 35 -12 79q13 -47 13 -79zM261 169q-4 35 10 78q3 -47 -8 -78zM268 159q-8 40 -15 88q18 -53 17 -88zM273 153q-8 47 -17 105q20 -63 20 -105zM285 165q-5 40 -1 89q8 -54 3 -89z" fill="#8cc63f"/>
<path d="M-3 158q-5 32 7 71q5 -43 -5 -71zM32 167q-7 32 -5 70q13 -42 8 -70zM38 171q-7 38 -17 85q17 -51 19 -85zM101 150q-7 38 -9 83q14 -50 11 -83zM112 152q-7 38 -17 85q18 -51 19 -85zM148 161q-5 41 9 91q5 -54 -6 -91zM159 161q-5 43 -5 95q10 -57 7 -95zM215 153q-6 43 -14 96q15 -57 16 -96zM243 152q-7 47 -4 105q13 -63 7 -105z" fill="#3a9a3e"/>
<path d="M41 190q-6 39 -12 86q14 -52 14 -86zM117 196q-5 37 -4 83q9 -50 6 -83zM140 199q-7 41 -18 91q19 -55 20 -91zM151 209q-6 35 -4 78q12 -47 6 -78zM169 194q-5 43 10 95q4 -57 -7 -95zM181 207q-7 44 -13 97q16 -58 15 -97zM193 201q-5 47 -5 104q10 -62 7 -104zM215 195q-8 33 -12 74q17 -45 15 -74zM232 199q-4 23 6 50q3 -30 -5 -50zM261 189q-4 38 -2 84q8 -50 3 -84z" fill="#3a9a3e"/>
<path d="M3 190q-7 44 -8 98q15 -59 10 -98zM23 199q-7 38 -15 85q17 -51 17 -85zM34 192q-6 41 -1 91q10 -54 3 -91zM48 193q-5 42 -2 93q9 -56 4 -93zM54 189q-5 32 0 72q8 -43 2 -72zM67 205q-4 39 15 86q0 -52 -13 -86zM71 193q-5 43 7 96q5 -58 -5 -96zM78 200q-4 34 8 77q3 -46 -6 -77zM85 190q-4 44 -2 98q8 -59 4 -98zM92 194q-7 43 -15 96q17 -58 17 -96zM96 198q-4 38 5 84q5 -51 -3 -84zM104 198q-3 32 10 70q1 -42 -9 -70zM123 201q-6 38 -0 84q10 -51 3 -84zM128 200q-5 42 -2 93q10 -56 5 -93zM146 202q-4 39 5 86q4 -52 -3 -86zM157 202q-6 38 5 85q7 -51 -2 -85zM186 192q-5 38 16 85q1 -51 -14 -85zM220 192q-3 28 14 61q-1 -37 -13 -61zM226 191q-5 27 17 59q1 -35 -15 -59zM243 188q-5 27 -7 60q11 -36 9 -60zM249 201q-5 28 11 61q3 -37 -9 -61zM254 210q-5 23 -11 50q13 -30 12 -50zM267 202q-6 33 -11 74q14 -44 13 -74zM273 209q-4 23 13 52q1 -31 -11 -52zM279 199q-4 36 -2 80q8 -48 4 -80zM286 190q-4 26 4 59q5 -35 -3 -59zM290 197q-5 23 -0 51q8 -31 2 -51z" fill="#8cc63f"/>
<path d="M11 199q-5 46 -1 103q8 -62 3 -103zM17 194q-7 33 -3 73q12 -44 6 -73zM28 206q-3 41 12 90q-0 -54 -11 -90zM61 198q-5 46 -8 103q12 -62 10 -103zM111 209q-5 32 13 71q3 -43 -10 -71zM134 195q-5 39 13 86q3 -52 -10 -86zM164 195q-8 36 -16 81q19 -48 19 -81zM173 206q-5 36 12 79q3 -48 -10 -79zM197 208q-8 33 -18 74q20 -45 20 -74zM204 210q-5 37 -4 81q9 -49 6 -81zM208 206q-6 45 -1 101q11 -60 4 -101zM238 192q-6 34 -5 76q11 -46 7 -76z" fill="#4bae4a"/>
<path d="M-3 235q-3 43 11 95q1 -57 -10 -95zM9 252q-6 46 -11 102q13 -61 12 -102zM42 243q-8 40 -15 90q18 -54 18 -90zM47 239q-4 39 11 87q3 -52 -9 -87zM53 247q-6 47 -4 105q12 -63 6 -105zM65 234q-4 37 4 81q5 -49 -2 -81zM104 232q-6 45 0 100q10 -60 2 -100z" fill="#3a9a3e"/>
<path d="M5 248q-7 34 -16 75q17 -45 18 -75zM14 240q-5 46 11 102q4 -61 -9 -102zM19 234q-6 42 10 93q5 -56 -7 -93zM31 247q-5 41 12 91q4 -55 -9 -91zM38 244q-6 32 2 72q8 -43 -0 -72zM59 248q-4 43 16 95q1 -57 -14 -95zM76 235q-6 45 1 100q10 -60 2 -100zM129 242q-4 40 13 89q2 -54 -11 -89zM141 229q-7 38 -9 85q15 -51 11 -85zM157 237q-5 43 7 95q5 -57 -4 -95zM163 249q-6 39 -15 86q15 -51 17 -86zM195 246q-5 34 13 75q3 -45 -10 -75zM215 236q-5 20 6 45q6 -27 -4 -45z" fill="#4bae4a"/>
<path d="M26 231q-8 34 -15 77q18 -46 17 -77zM70 236q-5 38 6 83q6 -50 -3 -83zM83 240q-4 40 -5 89q9 -54 6 -89zM91 237q-7 38 -12 85q15 -51 14 -85zM97 232q-6 45 -16 99q15 -60 17 -99zM110 239q-6 40 -12 89q14 -53 14 -89zM115 234q-5 36 -6 81q10 -48 8 -81zM122 246q-6 40 -2 89q10 -53 4 -89zM133 230q-8 37 -17 81q19 -49 20 -81zM146 250q-4 33 5 74q5 -45 -4 -74zM152 230q-4 32 8 72q3 -43 -6 -72zM169 250q-7 42 -17 93q17 -56 19 -93zM177 231q-6 34 1 76q9 -46 1 -76zM183 248q-5 47 4 103q6 -62 -2 -103zM188 250q-5 21 9 47q4 -28 -7 -47zM203 234q-3 27 12 59q-0 -35 -11 -59zM209 238q-8 26 -17 58q19 -35 19 -58z" fill="#8cc63f"/>
<path d="M2 292q-4 46 13 103q1 -62 -11 -103zM9 270q-3 36 10 79q1 -47 -8 -79zM18 280q-7 45 -11 99q15 -59 13 -99zM23 285q-4 36 -4 79q8 -48 5 -79zM70 272q-2 33 18 72q-3 -43 -16 -72zM80 271q-5 33 12 73q3 -44 -9 -73zM109 272q-8 42 -15 94q19 -56 18 -94zM126 275q-3 34 9 76q2 -46 -7 -76zM137 277q-6 32 -1 72q10 -43 4 -72zM161 275q-6 35 -13 78q15 -47 15 -78z" fill="#4bae4a"/>
<path d="M14 288q-7 33 -5 73q13 -44 7 -73zM28 275q-6 45 -14 100q15 -60 16 -100zM33 283q-6 42 5 92q7 -55 -3 -92zM64 278q-3 34 16 76q-2 -46 -15 -76zM74 287q-4 35 5 78q5 -47 -4 -78zM97 288q-5 37 11 82q3 -49 -9 -82zM114 274q-5 46 -6 102q10 -61 8 -102zM150 289q-5 36 -0 79q9 -47 2 -79zM167 269q-5 36 4 81q6 -48 -2 -81zM176 280q-7 39 -14 86q17 -52 16 -86zM205 270q-4 20 6 45q4 -27 -4 -45z" fill="#3a9a3e"/>
<path d="M41 287q-5 34 -10 75q12 -45 12 -75zM46 279q-5 46 -7 103q10 -62 8 -103zM51 271q-5 34 13 75q2 -45 -11 -75zM58 276q-7 35 -12 78q17 -47 14 -78zM86 276q-8 43 -15 96q18 -58 17 -96zM92 281q-4 37 3 82q5 -49 -2 -82zM102 268q-4 39 7 87q3 -52 -5 -87zM121 280q-5 34 -3 76q9 -46 5 -76zM131 290q-7 38 -17 84q18 -50 19 -84zM143 268q-6 32 3 72q8 -43 -1 -72zM154 289q-6 33 -17 74q16 -44 19 -74zM172 277q-5 41 -7 92q11 -55 9 -92zM182 285q-5 42 -1 93q9 -56 3 -93zM186 291q-6 37 -16 82q15 -49 18 -82zM191 281q-6 47 -17 104q16 -62 19 -104z" fill="#8cc63f"/>
<path d="M29 321q-6 47 1 104q9 -62 2 -104zM85 326q-6 36 -6 79q13 -48 8 -79zM97 331q-4 47 13 105q2 -63 -10 -105zM104 322q-4 33 15 74q1 -45 -13 -74zM111 317q-4 36 8 80q3 -48 -6 -80zM128 308q-4 32 7 71q3 -43 -6 -71zM142 326q-6 41 2 91q9 -55 0 -91zM148 329q-4 46 7 102q3 -61 -5 -102zM159 311q-5 39 -5 87q9 -52 7 -87zM185 313q-6 43 -8 96q13 -58 11 -96z" fill="#3a9a3e"/>
<path d="M1 328q-6 43 8 96q6 -58 -6 -96zM35 310q-6 34 -8 76q12 -45 10 -76zM44 315q-6 36 -13 80q15 -48 15 -80zM50 321q-6 34 -2 74q10 -45 4 -74zM62 327q-5 44 5 98q6 -59 -3 -98zM92 320q-4 41 1 90q6 -54 0 -90zM122 330q-6 42 -8 94q12 -56 10 -94zM172 332q-7 38 -4 84q13 -50 7 -84z" fill="#4bae4a"/>
<path d="M8 321q-6 39 0 86q9 -52 2 -86zM13 311q-5 39 -8 87q11 -52 10 -87zM18 321q-6 44 -17 98q17 -59 19 -98zM23 316q-5 46 17 103q1 -62 -14 -103zM40 318q-7 40 -7 88q14 -53 10 -88zM57 325q-5 37 -15 82q14 -49 16 -82zM69 309q-6 45 8 99q6 -60 -6 -99zM74 327q-3 45 13 100q0 -60 -11 -100zM78 321q-8 33 -15 73q19 -44 18 -73zM115 316q-4 45 16 101q-0 -60 -14 -101zM134 328q-5 37 -0 81q7 -49 2 -81zM154 323q-6 41 -9 91q14 -55 12 -91zM166 326q-4 41 11 90q2 -54 -9 -90zM179 331q-4 34 4 76q5 -46 -2 -76z" fill="#8cc63f"/>
<path d="M1 351q-5 37 17 83q1 -50 -15 -83zM5 369q-4 39 6 86q4 -51 -4 -86zM10 358q-6 33 -13 74q15 -44 15 -74zM16 363q-7 47 -3 104q12 -62 5 -104zM42 357q-4 37 17 82q0 -49 -14 -82zM79 366q-3 39 12 87q0 -52 -10 -87zM92 364q-6 37 -4 82q12 -49 7 -82zM99 356q-6 46 -4 103q12 -62 7 -103zM111 366q-5 47 8 105q5 -63 -6 -105zM153 358q-7 43 -5 95q13 -57 7 -95zM164 369q-4 42 10 92q2 -55 -8 -92zM170 363q-3 35 13 78q0 -47 -11 -78zM176 362q-4 34 -5 76q9 -46 7 -76z" fill="#8cc63f"/>
<path d="M23 352q-8 45 -13 101q17 -61 15 -101zM49 365q-6 38 -7 85q12 -51 9 -85zM55 367q-5 45 -3 100q10 -60 5 -100zM67 348q-6 32 -5 70q11 -42 7 -70zM105 350q-4 32 15 71q0 -43 -13 -71zM135 357q-4 43 6 96q4 -58 -5 -96zM141 348q-7 42 -8 93q15 -56 11 -93zM147 357q-5 42 14 93q2 -56 -12 -93zM158 372q-8 38 -16 84q19 -51 18 -84z" fill="#3a9a3e"/>
<path d="M29 349q-4 44 4 97q4 -58 -3 -97zM36 372q-3 37 8 81q2 -49 -7 -81zM62 371q-5 43 15 95q2 -57 -13 -95zM72 367q-4 46 -5 103q9 -62 7 -103zM85 360q-5 44 -1 98q9 -59 3 -98zM116 353q-5 45 8 100q6 -60 -5 -100zM122 372q-5 37 -2 83q9 -50 4 -83zM129 357q-3 46 10 102q2 -61 -8 -102z" fill="#4bae4a"/>
<path d="M119 398q-5 37 7 83q5 -50 -5 -83zM142 410q-6 33 2 73q8 -44 1 -73zM177 408q-6 38 -9 84q13 -51 11 -84z" fill="#3a9a3e"/>
<path d="M7 411q-7 36 -5 79q13 -48 7 -79zM13 408q-6 40 7 89q6 -54 -4 -89zM26 407q-3 40 18 88q-2 -53 -16 -88zM33 410q-3 42 16 94q-1 -57 -14 -94zM38 408q-3 39 14 88q-1 -53 -12 -88zM44 394q-4 44 -4 98q8 -59 5 -98zM75 395q-3 35 11 77q0 -46 -9 -77zM82 408q-4 44 3 98q5 -59 -2 -98zM89 396q-6 38 1 85q9 -51 1 -85zM100 404q-4 44 0 97q7 -58 2 -97zM105 402q-7 32 -12 71q16 -42 14 -71zM149 389q-6 45 -8 99q13 -59 10 -99zM172 394q-3 35 12 77q1 -46 -10 -77zM185 406q-4 34 -2 76q8 -45 4 -76z" fill="#4bae4a"/>
<path d="M-4 412q-6 37 7 82q6 -49 -4 -82zM1 404q-7 37 -5 83q13 -50 7 -83zM19 404q-6 34 5 75q7 -45 -3 -75zM50 391q-7 41 -3 91q12 -55 6 -91zM57 390q-7 39 -17 86q17 -52 19 -86zM64 402q-5 32 -1 72q8 -43 3 -72zM70 395q-8 42 -15 92q19 -55 17 -92zM94 404q-5 34 12 77q3 -46 -10 -77zM112 409q-6 33 9 74q6 -44 -6 -74zM124 409q-7 39 -13 86q16 -52 15 -86zM131 394q-4 34 3 75q5 -45 -2 -75zM136 391q-5 43 7 95q6 -57 -4 -95zM155 410q-5 41 -2 92q9 -55 4 -92zM160 412q-5 46 14 103q2 -62 -12 -103zM165 407q-6 39 -4 87q11 -52 6 -87z" fill="#8cc63f"/>
<path d="M-4 451q-5 39 -5 88q11 -53 7 -88zM15 452q-3 35 15 77q-1 -46 -13 -77zM51 438q-5 33 10 73q4 -44 -7 -73zM58 429q-4 42 17 94q0 -57 -14 -94zM109 442q-4 41 6 91q4 -55 -4 -91zM180 438q-5 40 6 88q5 -53 -4 -88z" fill="#3a9a3e"/>
<path d="M3 450q-5 46 6 102q5 -61 -4 -102zM10 445q-5 44 -5 98q10 -59 7 -98zM21 440q-6 43 -2 96q10 -58 4 -96zM26 434q-4 37 6 82q5 -49 -4 -82zM40 442q-5 44 -1 98q8 -59 2 -98zM64 442q-7 44 -14 97q17 -58 17 -97zM98 438q-3 36 10 80q1 -48 -8 -80zM120 447q-6 34 -1 77q11 -46 4 -77zM126 437q-6 35 3 78q8 -47 -1 -78zM131 431q-6 35 -7 77q13 -46 9 -77zM167 440q-4 37 8 82q3 -49 -6 -82z" fill="#8cc63f"/>
<path d="M33 433q-5 44 10 97q5 -58 -7 -97zM45 442q-6 43 -2 96q10 -58 4 -96zM70 447q-6 37 -8 82q12 -49 10 -82zM75 443q-3 43 11 96q1 -58 -9 -96zM82 442q-6 47 -1 104q10 -63 4 -104zM87 451q-5 36 11 81q3 -48 -9 -81zM93 451q-5 38 5 84q6 -50 -3 -84zM103 446q-7 39 -8 87q15 -52 11 -87zM115 436q-6 37 4 82q8 -49 -2 -82zM137 451q-5 47 -3 105q10 -63 5 -105zM142 439q-6 38 -13 84q14 -50 14 -84zM147 436q-4 39 4 87q5 -52 -2 -87zM154 433q-6 38 -15 84q16 -50 17 -84zM161 437q-5 34 15 75q2 -45 -12 -75zM173 432q-6 33 -7 74q12 -44 9 -74z" fill="#4bae4a"/>
<path d="M3 481q-5 46 -10 102q12 -61 12 -102zM27 476q-4 40 14 89q1 -54 -12 -89zM37 478q-3 40 14 88q-1 -53 -12 -88zM68 488q-6 41 -16 92q16 -55 18 -92zM96 478q-4 35 1 78q7 -47 1 -78zM108 481q-3 40 15 88q-1 -53 -13 -88zM113 487q-7 37 -3 83q12 -50 6 -83zM137 476q-4 47 17 103q0 -62 -15 -103zM149 478q-5 34 -7 76q11 -45 9 -76zM162 480q-5 42 13 93q3 -56 -10 -93zM180 478q-7 33 -6 73q13 -44 9 -73zM186 472q-4 38 -1 85q7 -51 3 -85z" fill="#8cc63f"/>
<path d="M9 478q-6 39 -14 88q15 -53 16 -88zM14 476q-6 40 3 89q8 -53 -0 -89zM21 479q-5 47 -1 105q8 -63 2 -105zM32 481q-2 35 17 79q-3 -47 -15 -79zM44 478q-7 45 -1 100q11 -60 3 -100zM50 474q-6 35 -7 77q12 -46 9 -77zM55 487q-6 41 -14 92q15 -55 16 -92zM62 488q-4 41 0 91q7 -55 2 -91zM73 489q-5 38 7 84q5 -50 -5 -84zM78 470q-5 35 -6 79q10 -47 8 -79zM84 474q-3 39 15 87q-2 -52 -13 -87zM125 478q-3 45 13 100q-0 -60 -11 -100zM144 478q-7 45 -2 99q11 -60 5 -99z" fill="#3a9a3e"/>
<path d="M89 475q-4 36 1 79q6 -48 0 -79zM101 483q-3 34 8 76q2 -45 -6 -76zM119 478q-5 36 -7 80q11 -48 9 -80zM130 485q-6 36 5 79q7 -47 -2 -79zM155 469q-5 32 0 71q8 -43 2 -71zM166 471q-7 41 -6 90q13 -54 9 -90zM172 482q-4 39 2 86q6 -52 -0 -86z" fill="#4bae4a"/>
<path d="M-5 523q-3 41 18 90q-2 -54 -16 -90zM6 528q-7 44 -9 99q14 -59 11 -99zM16 527q-3 46 7 102q2 -61 -6 -102zM23 512q-6 44 -8 97q13 -58 10 -97zM29 510q-4 40 1 88q6 -53 1 -88zM35 529q-7 34 -13 75q16 -45 15 -75zM42 524q-7 46 -8 102q15 -61 10 -102zM50 511q-5 42 -13 94q14 -57 15 -94zM75 512q-5 37 -10 83q12 -50 12 -83zM79 528q-6 43 7 96q7 -58 -4 -96zM119 523q-4 40 4 90q4 -54 -2 -90zM137 519q-4 38 6 83q5 -50 -4 -83zM148 508q-6 42 -4 92q11 -55 6 -92zM154 524q-6 41 6 92q7 -55 -3 -92zM167 522q-6 47 -16 105q15 -63 17 -105zM172 517q-6 47 -7 105q13 -63 10 -105zM177 517q-6 34 8 75q6 -45 -6 -75z" fill="#8cc63f"/>
<path d="M0 516q-5 33 1 74q8 -44 1 -74zM57 508q-4 44 11 98q2 -59 -9 -98zM63 532q-6 33 6 73q7 -44 -3 -73zM69 521q-4 34 14 74q0 -45 -12 -74zM86 515q-7 37 -9 83q15 -50 12 -83zM91 532q-5 36 10 79q4 -47 -8 -79zM97 530q-5 39 3 86q7 -52 -1 -86zM104 516q-7 39 -17 87q17 -52 19 -87zM113 515q-7 41 -16 91q17 -54 18 -91zM125 520q-6 46 4 103q8 -62 -2 -103zM131 526q-5 43 2 95q7 -57 -0 -95zM142 513q-4 36 14 80q1 -48 -11 -80zM161 519q-6 34 -0 75q10 -45 3 -75z" fill="#4bae4a"/>
<path d="M11 528q-6 32 1 71q10 -43 1 -71zM108 529q-5 38 -8 85q11 -51 10 -85zM185 521q-3 46 13 101q-1 -61 -12 -101z" fill="#3a9a3e"/>
<path d="M-5 563q-4 43 14 95q2 -57 -12 -95zM21 568q-6 34 3 75q9 -45 -0 -75zM55 565q-7 42 -3 93q12 -56 5 -93zM67 567q-5 32 9 71q4 -43 -7 -71zM146 557q-4 46 16 103q1 -62 -14 -103zM150 557q-5 42 8 93q5 -56 -5 -93zM167 565q-5 32 -4 72q9 -43 5 -72zM184 558q-6 38 -16 84q16 -50 18 -84z" fill="#4bae4a"/>
<path d="M10 568q-6 32 -11 70q14 -42 13 -70zM16 559q-6 45 -14 99q15 -60 16 -99zM26 552q-6 38 -18 85q16 -51 20 -85zM34 550q-3 40 10 88q2 -53 -8 -88zM43 556q-5 37 7 83q6 -50 -4 -83zM48 569q-4 43 8 95q3 -57 -6 -95zM78 555q-4 32 2 72q6 -43 -0 -72zM84 561q-4 41 13 92q1 -55 -11 -92zM91 552q-6 38 3 85q9 -51 0 -85zM102 569q-6 39 1 87q9 -52 1 -87zM108 565q-4 35 15 78q1 -47 -13 -78zM118 562q-5 46 12 102q3 -61 -10 -102zM123 568q-7 35 -4 78q13 -47 6 -78zM134 572q-5 37 -3 83q9 -50 4 -83zM141 549q-3 46 16 103q-1 -62 -14 -103zM160 567q-6 37 5 81q8 -49 -3 -81zM174 566q-5 40 -12 89q13 -53 14 -89z" fill="#8cc63f"/>
<path d="M2 563q-5 44 -9 97q11 -58 10 -97zM38 569q-3 45 18 100q-2 -60 -16 -100zM61 562q-3 36 17 79q-3 -48 -16 -79zM73 549q-5 38 14 84q3 -50 -11 -84zM96 563q-7 37 -3 82q12 -49 5 -82zM113 553q-4 44 15 97q0 -58 -13 -97zM128 572q-5 45 5 101q7 -60 -2 -101zM155 559q-4 33 5 74q4 -44 -4 -74zM179 562q-6 32 9 72q6 -43 -6 -72z" fill="#3a9a3e"/>
<path d="M6 609q-7 43 -14 95q17 -57 16 -95zM12 595q-8 45 -17 100q20 -60 20 -100zM29 606q-4 40 11 89q2 -53 -9 -89zM35 598q-7 43 -18 96q18 -58 20 -96zM46 597q-7 46 -10 101q14 -61 12 -101zM63 610q-7 47 -18 104q18 -62 20 -104zM81 607q-5 39 -8 87q11 -52 9 -87zM90 610q-6 36 -9 81q13 -49 11 -81zM97 605q-5 40 3 88q6 -53 -1 -88zM103 597q-6 35 4 78q8 -47 -1 -78zM119 602q-4 33 18 74q-1 -45 -16 -74zM124 608q-3 42 14 94q-2 -57 -13 -94zM131 611q-7 40 -17 90q18 -54 19 -90zM161 600q-6 42 -12 93q15 -56 14 -93zM174 606q-5 32 -6 72q10 -43 8 -72zM178 595q-6 36 8 80q6 -48 -6 -80zM190 590q-7 42 -11 93q15 -56 14 -93zM202 602q-8 46 -14 101q18 -61 16 -101zM209 605q-3 36 10 81q1 -48 -8 -81zM229 595q-5 36 -1 80q8 -48 3 -80zM247 604q-5 34 -9 76q12 -46 11 -76z" fill="#4bae4a"/>
<path d="M40 591q-6 38 -16 84q15 -50 17 -84zM51 602q-4 40 -3 89q8 -54 5 -89zM69 604q-5 45 5 99q5 -60 -3 -99zM74 590q-6 35 6 78q6 -47 -4 -78zM150 610q-5 41 -3 92q10 -55 5 -92zM184 599q-6 44 -6 97q13 -58 9 -97zM234 595q-5 27 -2 59q9 -36 4 -59z" fill="#3a9a3e"/>
<path d="M-5 609q-6 45 3 100q9 -60 -0 -100zM1 594q-7 46 -3 103q12 -62 5 -103zM18 608q-7 46 -17 101q18 -61 19 -101zM25 612q-7 35 -10 78q16 -47 12 -78zM58 589q-5 34 6 74q6 -45 -4 -74zM86 591q-5 40 13 88q3 -53 -10 -88zM108 588q-4 34 8 76q3 -45 -6 -76zM115 606q-7 32 -8 72q15 -43 11 -72zM138 598q-8 33 -14 74q18 -44 17 -74zM145 594q-4 39 10 86q3 -52 -8 -86zM157 609q-4 41 3 92q5 -55 -1 -92zM168 605q-5 34 -3 75q9 -45 5 -75zM196 611q-5 40 -11 89q13 -53 13 -89zM215 609q-7 28 -8 62q14 -37 11 -62zM220 610q-6 25 -14 55q15 -33 16 -55zM225 596q-7 38 -9 84q15 -50 12 -84z" fill="#8cc63f"/>
<path d="M3 639q-4 47 8 104q3 -62 -6 -104zM9 630q-8 35 -13 77q17 -46 16 -77zM35 638q-7 40 -9 88q14 -53 11 -88zM58 629q-7 43 -15 95q18 -57 18 -95zM104 638q-6 40 -15 90q16 -54 17 -90zM175 632q-3 38 15 85q-1 -51 -14 -85zM186 648q-5 45 -9 99q12 -60 11 -99zM203 651q-5 42 -15 92q15 -55 16 -92zM215 645q-4 19 3 43q4 -26 -2 -43z" fill="#4bae4a"/>
<path d="M-3 649q-5 34 10 76q4 -46 -7 -76zM14 631q-5 45 11 101q4 -60 -8 -101zM19 640q-6 43 -4 96q12 -58 6 -96zM29 634q-4 43 -3 96q8 -57 5 -96zM47 638q-6 41 -13 92q15 -55 15 -92zM53 647q-5 47 -14 104q14 -63 16 -104zM65 640q-5 39 10 88q3 -53 -8 -88zM72 629q-6 43 -10 95q13 -57 12 -95zM78 641q-5 43 -10 96q13 -57 12 -96zM84 640q-6 32 -6 70q12 -42 8 -70zM98 650q-5 35 12 79q4 -47 -9 -79zM115 645q-5 38 -10 85q12 -51 11 -85zM122 643q-6 33 6 73q7 -44 -3 -73zM128 640q-5 42 8 93q5 -56 -6 -93zM139 640q-6 34 -4 76q11 -46 6 -76zM146 652q-3 47 14 104q-1 -62 -13 -104zM153 650q-4 46 0 102q7 -61 1 -102zM158 637q-5 45 8 100q5 -60 -5 -100zM163 643q-6 42 3 93q9 -56 -0 -93zM168 630q-7 36 -7 79q14 -47 10 -79zM181 639q-6 39 -6 88q11 -53 8 -88zM196 635q-6 37 -8 83q12 -50 10 -83zM209 631q-6 21 2 47q9 -28 1 -47z" fill="#8cc63f"/>
<path d="M24 635q-6 32 -7 71q12 -43 9 -71zM41 645q-7 34 -16 76q18 -46 18 -76zM92 638q-4 35 10 78q3 -47 -7 -78zM110 647q-6 41 -16 91q16 -54 18 -91zM133 652q-6 35 -6 78q11 -47 8 -78zM191 647q-4 37 5 83q5 -50 -3 -83zM221 629q-5 23 12 50q3 -30 -9 -50zM228 639q-6 19 -17 42q16 -25 19 -42z" fill="#3a9a3e"/>
<path d="M-3 677q-5 36 7 81q4 -48 -5 -81zM55 691q-4 28 -2 61q8 -37 4 -61zM106 675q-5 33 9 74q4 -44 -7 -74zM117 689q-5 20 15 44q2 -26 -13 -44zM122 679q-4 33 17 74q0 -44 -14 -74zM129 670q-6 34 3 75q8 -45 -1 -75z" fill="#3a9a3e"/>
<path d="M3 680q-4 24 1 53q6 -32 0 -53zM8 677q-4 28 7 62q4 -37 -5 -62zM24 677q-5 27 -8 61q12 -37 10 -61zM42 688q-6 21 -4 46q11 -28 6 -46zM78 690q-6 20 1 45q9 -27 1 -45zM136 677q-5 22 2 49q8 -29 0 -49zM143 677q-5 32 3 72q7 -43 -1 -72zM148 688q-4 28 7 62q4 -37 -5 -62zM160 675q-5 32 -6 71q10 -42 8 -71zM167 672q-4 35 6 77q4 -46 -4 -77zM178 672q-7 32 -12 71q16 -43 14 -71z" fill="#4bae4a"/>
<path d="M14 675q-6 26 1 57q10 -34 2 -57zM19 686q-6 27 -15 61q15 -37 17 -61zM30 669q-5 33 10 73q4 -44 -7 -73zM37 688q-4 22 17 49q0 -30 -15 -49zM49 688q-6 26 5 58q8 -35 -2 -58zM60 690q-4 23 9 50q3 -30 -7 -50zM67 681q-6 25 -8 56q13 -33 11 -56zM72 678q-4 25 0 56q7 -33 2 -56zM84 687q-7 26 -16 58q18 -35 18 -58zM88 673q-6 28 2 62q8 -37 0 -62zM94 686q-6 24 -14 53q16 -32 16 -53zM99 684q-8 25 -17 56q19 -34 20 -56zM113 690q-6 21 -9 47q12 -28 11 -47zM155 674q-6 32 -12 70q13 -42 13 -70zM174 691q-4 22 16 48q1 -29 -14 -48zM183 680q-4 27 15 61q0 -37 -13 -61zM189 669q-8 39 -15 88q18 -53 18 -88zM195 687q-5 25 2 55q7 -33 0 -55z" fill="#8cc63f"/>
<path d="M2 709q-3 20 14 45q0 -27 -12 -45z" fill="#8cc63f"/>
<path d="M239 616q-6 25 -0 55q10 -33 3 -55z" fill="#8cc63f"/>
<path d="M197 615q-7 28 -2 62q12 -37 5 -62z" fill="#4bae4a"/>
<path d="M227 595q-5 37 9 82q5 -49 -6 -82z" fill="#8cc63f"/>
<path d="M242 600q-5 38 -3 85q9 -51 5 -85z" fill="#3a9a3e"/>
<path d="M226 609q-6 27 -2 61q11 -36 5 -61z" fill="#4bae4a"/>
<path d="M242 605q-6 26 2 58q8 -35 -0 -58z" fill="#8cc63f"/>
<path d="M188 606q-5 24 0 54q8 -32 2 -54z" fill="#4bae4a"/>
<path d="M220 599q-4 37 7 83q3 -50 -5 -83z" fill="#4bae4a"/>
<path d="M198 599q-5 38 -5 84q10 -50 7 -84z" fill="#4bae4a"/>
<path d="M237 600q-4 34 8 75q3 -45 -7 -75z" fill="#4bae4a"/>
<path d="M205 590q-6 39 0 87q10 -52 2 -87z" fill="#8cc63f"/>
<path d="M217 615q-5 23 -4 51q10 -31 6 -51z" fill="#4bae4a"/>
<path d="M228 595q-4 37 3 82q6 -49 -1 -82z" fill="#3a9a3e"/>
<path d="M192 588q-5 37 2 81q7 -49 0 -81z" fill="#8cc63f"/>
<path d="M215 615q-6 22 -5 49q11 -30 7 -49z" fill="#4bae4a"/>
<path d="M218 588q-4 39 9 86q3 -52 -7 -86z" fill="#8cc63f"/>
<path d="M203 603q-5 37 5 82q7 -49 -2 -82z" fill="#3a9a3e"/>
<path d="M233 625q-6 23 4 52q7 -31 -2 -52z" fill="#4bae4a"/>
<path d="M235 597q-5 34 1 77q8 -46 1 -77z" fill="#4bae4a"/>
<path d="M206 604q-5 25 6 55q5 -33 -4 -55z" fill="#8cc63f"/>
<path d="M202 608q-5 26 -5 59q10 -35 7 -59z" fill="#4bae4a"/>
<path d="M189 594q-6 33 -4 72q11 -43 7 -72z" fill="#4bae4a"/>
<path d="M210 603q-6 39 -2 87q11 -52 5 -87z" fill="#8cc63f"/>
<path d="M852 -10q-4 14 5 32q4 -19 -3 -32zM871 -4q-5 11 -4 24q10 -14 6 -24zM931 -13q-7 11 -3 25q12 -15 6 -25zM943 -1q-6 10 -5 22q12 -13 7 -22zM971 4q-4 7 4 15q4 -9 -3 -15zM998 -22q-4 15 2 32q5 -19 -1 -32zM1005 -9q-6 11 0 24q10 -14 2 -24zM1024 -7q-4 7 5 16q5 -9 -3 -16zM1053 -16q-5 10 -1 21q8 -13 3 -21zM1079 -11q-6 10 -3 22q10 -13 5 -22zM1106 -5q-4 8 2 18q5 -11 -1 -18zM1121 -8q-5 13 3 30q7 -18 -1 -30zM1131 4q-5 7 2 14q7 -9 -0 -14zM1161 -4q-6 10 -3 22q11 -13 5 -22zM1199 -2q-6 12 -3 26q11 -16 5 -26zM1238 -4q-6 9 4 21q7 -13 -2 -21zM1282 -10q-5 12 1 26q8 -16 1 -26zM1300 -20q-6 14 -3 32q11 -19 5 -32zM1353 -14q-4 14 -0 32q7 -19 2 -32zM1371 -0q-4 8 -1 17q8 -10 3 -17zM1626 -6q-6 6 -3 13q10 -8 5 -13zM1672 -8q-5 6 1 12q8 -7 1 -12zM1698 -12q-5 7 -1 16q9 -9 3 -16zM1821 -7q-5 5 0 10q8 -6 2 -10zM1935 -5q-5 4 -2 9q9 -6 4 -9z" fill="#4bae4a"/>
<path d="M860 -13q-4 14 -2 31q8 -18 4 -31zM883 -9q-4 10 3 23q5 -14 -1 -23zM902 -18q-6 14 3 32q8 -19 -1 -32zM913 -3q-6 10 1 23q9 -14 1 -23zM957 -0q-5 7 -3 15q9 -9 5 -15zM990 -1q-4 9 -2 19q7 -11 4 -19zM1040 -5q-6 7 -0 15q9 -9 3 -15zM1061 -7q-5 12 -4 26q10 -16 6 -26zM1090 -8q-5 8 1 18q7 -11 1 -18zM1146 -11q-6 10 -2 21q11 -13 5 -21zM1175 -15q-5 9 4 21q7 -12 -1 -21zM1185 -23q-4 15 1 33q6 -20 0 -33zM1211 4q-4 6 2 14q6 -9 0 -14zM1218 -21q-6 14 -5 31q11 -19 7 -31zM1255 -6q-6 7 -0 16q9 -10 2 -16zM1264 -3q-5 11 4 24q6 -15 -2 -24zM1318 -14q-4 11 5 25q4 -15 -3 -25zM1332 -3q-6 10 4 23q8 -14 -2 -23zM1342 -17q-6 13 -2 28q11 -17 5 -28zM1382 -3q-6 4 -3 9q10 -5 5 -9zM1432 -11q-5 7 2 15q7 -9 -0 -15zM1460 -10q-5 7 -1 16q9 -9 3 -16zM1490 -3q-5 4 3 9q7 -6 -0 -9zM1519 -5q-5 4 1 9q8 -5 1 -9zM1537 -2q-5 4 0 8q8 -5 2 -8zM1597 -8q-5 6 1 14q8 -8 1 -14zM1752 -9q-5 7 -1 15q9 -9 3 -15zM1798 -4q-5 4 1 9q8 -5 1 -9zM1850 -10q-5 7 2 15q7 -9 0 -15zM1886 -8q-5 5 3 11q7 -6 -1 -11zM1972 -5q-5 5 1 12q8 -7 1 -12zM2028 -10q-5 7 0 15q8 -9 2 -15z" fill="#3a9a3e"/>
<rect x="143.0" y="80.0" width="6.0" height="100.0" fill="#8a4b2c"/>
<rect x="275.0" y="50.0" width="7.0" height="78.0" fill="#8a4b2c"/>
<rect x="326.0" y="90.0" width="4.0" height="39.0" fill="#8a4b2c"/>
<rect x="218.5" y="150.0" width="5.0" height="49.0" fill="#8a4b2c"/>
<rect x="64.0" y="110.0" width="4.0" height="68.0" fill="#8a4b2c"/>
<rect x="192.0" y="76.0" width="4.0" height="14.0" fill="#8a4b2c"/>
<path d="M225.0 -52.8 L228.8 -36.8 L233.3 -22.8 L245.4 -7.5 L260.7 5.3 L278.6 18.0 L262.6 14.2 L267.1 22.5 L254.3 23.8 L242.9 12.9 L242.9 21.8 L254.3 33.3 L269.6 47.4 L283.7 53.7 L295.2 60.1 L300.3 69.7 L288.8 65.2 L292.0 73.5 L281.1 66.5 L276.0 70.3 L268.4 61.4 L259.4 62.7 L262.0 69.0 L273.5 74.1 L283.7 85.6 L291.3 100.4 L280.2 89.7 L269.1 100.5 L258.0 92.3 L246.9 100.4 L235.8 89.5 L224.6 101.1 L213.5 91.7 L202.4 98.3 L191.3 88.8 L180.2 98.4 L169.1 88.9 L158.0 100.4 L146.8 90.8 L135.7 101.3 L138.9 85.0 L143.4 86.9 L156.1 83.1 L193.1 69.7 L196.9 58.8 L186.7 56.3 L182.9 63.9 L179.1 58.8 L171.4 66.5 L172.7 58.8 L158.7 63.9 L153.6 58.8 L163.8 47.4 L181.6 42.3 L199.5 33.3 L217.4 23.1 L214.8 19.3 L203.3 19.3 L199.5 12.3 L190.6 23.8 L186.7 23.1 L189.3 15.5 L175.3 23.1 L179.1 15.5 L166.3 16.1 L179.1 9.1 L190.6 1.4 L204.6 -3.7 L212.3 -12.6 L218.6 -25.3 L221.2 -41.9Z" fill="#3a6756"/>
<path d="M225.6 -35.6 L230.1 -22.8 L237.8 -12.6 L249.2 1.4 L239.7 -2.4 L228.8 -10.0 L225.0 -3.7 L212.3 6.5 L211.0 2.7 L204.6 4.0 L194.4 9.1 L189.3 10.4 L181.6 14.2 L176.5 12.9 L191.8 2.7 L207.1 -3.7 L214.8 -13.9 L221.2 -27.9Z" fill="#4f9b75"/>
<path d="M217.4 26.9 L204.6 38.4 L199.5 43.5 L203.3 47.4 L194.4 52.5 L186.7 55.0 L179.1 57.6 L174.0 55.0 L166.3 58.8 L161.2 56.3 L166.3 48.6 L184.2 43.5 L199.5 34.6Z" fill="#4f9b75"/>
<path d="M226.3 25.7 L233.9 24.4 L241.6 29.5 L249.2 38.4 L245.4 39.7 L236.5 33.3 L235.2 38.4 L228.8 32.1Z" fill="#4f9b75"/>
<path d="M240.3 41.0 L251.8 42.3 L265.8 49.9 L281.1 56.3 L293.9 62.7 L296.4 67.8 L287.5 63.9 L283.7 67.8 L276.0 61.4 L272.2 65.2 L263.3 55.0 L250.5 48.6Z" fill="#4f9b75"/>
<path d="M221.2 62.7 L232.7 65.2 L236.5 74.1 L237.8 84.3 L231.4 80.5 L225.0 85.6 L219.9 80.5 L214.8 84.3 L212.3 78.0 L208.4 79.2 L211.0 71.6 L208.4 67.8Z" fill="#4f9b75"/>
<path d="M196.9 72.9 L181.6 83.1 L176.5 88.2 L166.3 92.0 L144.6 92.0 L144.6 85.6 L161.2 81.8 L181.6 75.4Z" fill="#4f9b75"/>
<path d="M80.0 -41.5 L83.6 -26.4 L87.9 -13.1 L99.4 1.5 L113.9 13.6 L130.9 25.7 L115.8 22.1 L120.0 30.0 L107.9 31.2 L97.0 20.9 L97.0 29.4 L107.9 40.3 L122.4 53.6 L135.7 59.6 L146.7 65.7 L151.5 74.8 L140.6 70.6 L143.6 78.4 L133.3 71.8 L128.5 75.4 L121.2 66.9 L112.7 68.1 L115.1 74.2 L126.1 79.0 L135.7 89.9 L143.0 102.4 L132.5 94.9 L121.9 104.0 L111.3 96.5 L100.8 102.8 L90.2 94.9 L79.7 102.8 L69.1 95.0 L58.5 104.5 L48.0 96.6 L37.4 104.8 L26.9 96.4 L16.3 101.7 L5.7 93.8 L-4.8 104.9 L-1.8 89.3 L2.5 91.2 L14.6 87.5 L49.7 74.8 L53.3 64.5 L43.7 62.1 L40.0 69.3 L36.4 64.5 L29.1 71.8 L30.3 64.5 L17.0 69.3 L12.1 64.5 L21.8 53.6 L38.8 48.7 L55.8 40.3 L72.7 30.6 L70.3 26.9 L59.4 26.9 L55.8 20.3 L47.3 31.2 L43.7 30.6 L46.1 23.3 L32.7 30.6 L36.4 23.3 L24.3 23.9 L36.4 17.2 L47.3 10.0 L60.6 5.1 L67.9 -3.4 L73.9 -15.5 L76.4 -31.2Z" fill="#3a6756"/>
<path d="M80.6 -25.2 L84.9 -13.1 L92.1 -3.4 L103.0 10.0 L93.9 6.3 L83.6 -0.9 L80.0 5.1 L67.9 14.8 L66.7 11.2 L60.6 12.4 L50.9 17.2 L46.1 18.4 L38.8 22.1 L34.0 20.9 L48.5 11.2 L63.0 5.1 L70.3 -4.6 L76.4 -17.9Z" fill="#4f9b75"/>
<path d="M72.7 34.2 L60.6 45.1 L55.8 50.0 L59.4 53.6 L50.9 58.4 L43.7 60.9 L36.4 63.3 L31.5 60.9 L24.3 64.5 L19.4 62.1 L24.3 54.8 L41.2 50.0 L55.8 41.5Z" fill="#4f9b75"/>
<path d="M81.2 33.0 L88.5 31.8 L95.8 36.6 L103.0 45.1 L99.4 46.3 L90.9 40.3 L89.7 45.1 L83.6 39.0Z" fill="#4f9b75"/>
<path d="M94.5 47.5 L105.5 48.7 L118.8 56.0 L133.3 62.1 L145.4 68.1 L147.9 73.0 L139.4 69.3 L135.7 73.0 L128.5 66.9 L124.8 70.6 L116.4 60.9 L104.2 54.8Z" fill="#4f9b75"/>
<path d="M76.4 68.1 L87.3 70.6 L90.9 79.0 L92.1 88.7 L86.1 85.1 L80.0 89.9 L75.2 85.1 L70.3 88.7 L67.9 82.7 L64.3 83.9 L66.7 76.6 L64.3 73.0Z" fill="#4f9b75"/>
<path d="M53.3 77.8 L38.8 87.5 L34.0 92.4 L24.3 96.0 L3.7 96.0 L3.7 89.9 L19.4 86.3 L38.8 80.2Z" fill="#4f9b75"/>
<path d="M52.0 26.5 L54.5 37.0 L57.5 46.2 L65.5 56.3 L75.6 64.8 L87.4 73.2 L76.8 70.6 L79.8 76.1 L71.4 77.0 L63.8 69.8 L63.8 75.7 L71.4 83.3 L81.5 92.5 L90.7 96.7 L98.3 101.0 L101.7 107.3 L94.1 104.3 L96.2 109.8 L89.0 105.2 L85.7 107.7 L80.6 101.8 L74.7 102.6 L76.4 106.8 L84.0 110.2 L90.7 117.8 L95.8 128.3 L88.4 120.0 L81.1 127.6 L73.8 121.1 L66.4 128.2 L59.1 120.9 L51.8 128.1 L44.4 120.3 L37.1 128.3 L29.8 120.9 L22.4 126.3 L15.1 120.8 L7.7 127.4 L0.4 120.0 L-6.9 126.8 L-4.8 117.4 L-1.9 118.6 L6.5 116.1 L31.0 107.3 L33.5 100.1 L26.7 98.4 L24.2 103.5 L21.7 100.1 L16.6 105.2 L17.5 100.1 L8.2 103.5 L4.9 100.1 L11.6 92.5 L23.4 89.2 L35.2 83.3 L47.0 76.5 L45.3 74.0 L37.7 74.0 L35.2 69.4 L29.3 77.0 L26.7 76.5 L28.4 71.5 L19.2 76.5 L21.7 71.5 L13.3 71.9 L21.7 67.3 L29.3 62.2 L38.5 58.9 L43.6 53.0 L47.8 44.6 L49.5 33.6Z" fill="#3a6756"/>
<path d="M52.4 37.8 L55.4 46.2 L60.4 53.0 L68.0 62.2 L61.7 59.7 L54.5 54.7 L52.0 58.9 L43.6 65.6 L42.7 63.1 L38.5 63.9 L31.8 67.3 L28.4 68.1 L23.4 70.6 L20.0 69.8 L30.1 63.1 L40.2 58.9 L45.3 52.1 L49.5 42.9Z" fill="#4f9b75"/>
<path d="M47.0 79.1 L38.5 86.6 L35.2 90.0 L37.7 92.5 L31.8 95.9 L26.7 97.6 L21.7 99.3 L18.3 97.6 L13.3 100.1 L9.9 98.4 L13.3 93.4 L25.1 90.0 L35.2 84.1Z" fill="#4f9b75"/>
<path d="M52.8 78.2 L57.9 77.4 L62.9 80.8 L68.0 86.6 L65.5 87.5 L59.6 83.3 L58.7 86.6 L54.5 82.4Z" fill="#4f9b75"/>
<path d="M62.1 88.3 L69.7 89.2 L78.9 94.2 L89.0 98.4 L97.5 102.6 L99.1 106.0 L93.3 103.5 L90.7 106.0 L85.7 101.8 L83.2 104.3 L77.3 97.6 L68.8 93.4Z" fill="#4f9b75"/>
<path d="M49.5 102.6 L57.1 104.3 L59.6 110.2 L60.4 116.9 L56.2 114.4 L52.0 117.8 L48.6 114.4 L45.3 116.9 L43.6 112.7 L41.1 113.6 L42.7 108.5 L41.1 106.0Z" fill="#4f9b75"/>
<path d="M33.5 109.4 L23.4 116.1 L20.0 119.5 L13.3 122.0 L-1.0 122.0 L-1.0 117.8 L9.9 115.3 L23.4 111.1Z" fill="#4f9b75"/>
<path d="M226.0 22.2 L228.4 32.1 L231.1 40.8 L238.7 50.3 L248.1 58.2 L259.2 66.1 L249.3 63.8 L252.1 68.9 L244.2 69.7 L237.1 63.0 L237.1 68.5 L244.2 75.6 L253.7 84.3 L262.4 88.3 L269.5 92.2 L272.7 98.2 L265.5 95.4 L267.5 100.5 L260.8 96.2 L257.6 98.6 L252.9 93.0 L247.4 93.8 L248.9 97.8 L256.1 100.9 L262.4 108.0 L267.1 116.7 L260.2 112.1 L253.3 116.9 L246.5 111.4 L239.6 115.7 L232.7 110.9 L225.8 117.8 L218.9 110.9 L212.0 117.8 L205.1 112.0 L198.2 117.8 L191.3 111.3 L184.4 116.4 L177.5 110.2 L170.6 116.4 L172.6 107.7 L175.4 108.8 L183.3 106.5 L206.2 98.2 L208.6 91.4 L202.3 89.9 L199.9 94.6 L197.5 91.4 L192.8 96.2 L193.6 91.4 L184.9 94.6 L181.7 91.4 L188.0 84.3 L199.1 81.2 L210.2 75.6 L221.3 69.3 L219.7 66.9 L212.6 66.9 L210.2 62.6 L204.7 69.7 L202.3 69.3 L203.9 64.6 L195.2 69.3 L197.5 64.6 L189.6 64.9 L197.5 60.6 L204.7 55.9 L213.4 52.7 L218.1 47.2 L222.0 39.2 L223.6 29.0Z" fill="#3a6756"/>
<path d="M226.4 32.9 L229.2 40.8 L233.9 47.2 L241.0 55.9 L235.1 53.5 L228.4 48.7 L226.0 52.7 L218.1 59.0 L217.3 56.6 L213.4 57.4 L207.0 60.6 L203.9 61.4 L199.1 63.8 L196.0 63.0 L205.4 56.6 L214.9 52.7 L219.7 46.4 L223.6 37.7Z" fill="#4f9b75"/>
<path d="M221.3 71.7 L213.4 78.8 L210.2 81.9 L212.6 84.3 L207.0 87.5 L202.3 89.1 L197.5 90.6 L194.4 89.1 L189.6 91.4 L186.5 89.9 L189.6 85.1 L200.7 81.9 L210.2 76.4Z" fill="#4f9b75"/>
<path d="M226.8 70.9 L231.5 70.1 L236.3 73.2 L241.0 78.8 L238.7 79.6 L233.1 75.6 L232.3 78.8 L228.4 74.8Z" fill="#4f9b75"/>
<path d="M235.5 80.4 L242.6 81.2 L251.3 85.9 L260.8 89.9 L268.7 93.8 L270.3 97.0 L264.8 94.6 L262.4 97.0 L257.6 93.0 L255.3 95.4 L249.7 89.1 L241.8 85.1Z" fill="#4f9b75"/>
<path d="M223.6 93.8 L230.7 95.4 L233.1 100.9 L233.9 107.3 L230.0 104.9 L226.0 108.0 L222.8 104.9 L219.7 107.3 L218.1 103.3 L215.7 104.1 L217.3 99.3 L215.7 97.0Z" fill="#4f9b75"/>
<path d="M208.6 100.1 L199.1 106.5 L196.0 109.6 L189.6 112.0 L176.2 112.0 L176.2 108.0 L186.5 105.7 L199.1 101.7Z" fill="#4f9b75"/>
<path d="M154.0 -122.3 L160.4 -95.9 L167.8 -72.6 L187.9 -47.2 L213.3 -26.0 L242.9 -4.8 L216.5 -11.2 L223.9 2.6 L202.7 4.7 L183.7 -13.3 L183.7 1.5 L202.7 20.6 L228.1 43.9 L251.4 54.5 L270.5 65.1 L278.9 80.9 L259.9 73.5 L265.2 87.3 L247.2 75.7 L238.7 82.0 L226.0 67.2 L211.2 69.3 L215.4 79.9 L234.5 88.4 L251.4 107.4 L264.1 128.8 L245.7 118.6 L227.2 129.9 L208.8 118.0 L190.3 130.3 L171.9 112.7 L153.4 130.4 L135.0 117.7 L116.5 130.2 L98.1 116.8 L79.6 131.2 L61.1 113.0 L42.7 132.4 L24.2 115.5 L5.8 132.7 L11.1 106.4 L18.5 109.5 L39.7 103.2 L101.1 80.9 L107.4 62.9 L90.5 58.7 L84.1 71.4 L77.8 62.9 L65.1 75.7 L67.2 62.9 L43.9 71.4 L35.4 62.9 L52.4 43.9 L82.0 35.4 L111.7 20.6 L141.3 3.7 L137.1 -2.7 L118.0 -2.7 L111.7 -14.3 L96.8 4.7 L90.5 3.7 L94.7 -9.0 L71.4 3.7 L77.8 -9.0 L56.6 -8.0 L77.8 -19.6 L96.8 -32.3 L120.1 -40.8 L132.8 -55.6 L143.4 -76.8 L147.7 -104.3Z" fill="#3a6756"/>
<path d="M155.1 -93.7 L162.5 -72.6 L175.2 -55.6 L194.2 -32.3 L178.4 -38.7 L160.4 -51.4 L154.0 -40.8 L132.8 -23.9 L130.7 -30.2 L120.1 -28.1 L103.2 -19.6 L94.7 -17.5 L82.0 -11.2 L73.6 -13.3 L99.0 -30.2 L124.4 -40.8 L137.1 -57.7 L147.7 -81.0Z" fill="#4f9b75"/>
<path d="M141.3 10.0 L120.1 29.1 L111.7 37.5 L118.0 43.9 L103.2 52.4 L90.5 56.6 L77.8 60.8 L69.3 56.6 L56.6 62.9 L48.1 58.7 L56.6 46.0 L86.3 37.5 L111.7 22.7Z" fill="#4f9b75"/>
<path d="M156.1 7.9 L168.8 5.8 L181.5 14.2 L194.2 29.1 L187.9 31.2 L173.1 20.6 L170.9 29.1 L160.4 18.5Z" fill="#4f9b75"/>
<path d="M179.4 33.3 L198.5 35.4 L221.8 48.1 L247.2 58.7 L268.3 69.3 L272.6 77.8 L257.8 71.4 L251.4 77.8 L238.7 67.2 L232.4 73.5 L217.5 56.6 L196.4 46.0Z" fill="#4f9b75"/>
<path d="M147.7 69.3 L166.7 73.5 L173.1 88.4 L175.2 105.3 L164.6 98.9 L154.0 107.4 L145.5 98.9 L137.1 105.3 L132.8 94.7 L126.5 96.8 L130.7 84.1 L126.5 77.8Z" fill="#4f9b75"/>
<path d="M107.4 86.2 L82.0 103.2 L73.6 111.6 L56.6 118.0 L20.6 118.0 L20.6 107.4 L48.1 101.1 L82.0 90.5Z" fill="#4f9b75"/>
<path d="M280.0 -63.9 L283.8 -48.3 L288.1 -34.5 L300.0 -19.5 L315.0 -7.0 L332.5 5.5 L316.9 1.8 L321.3 9.9 L308.8 11.1 L297.5 0.5 L297.5 9.2 L308.8 20.5 L323.8 34.2 L337.5 40.5 L348.8 46.8 L353.8 56.1 L342.5 51.8 L345.6 59.9 L335.0 53.0 L330.0 56.8 L322.5 48.0 L313.8 49.2 L316.3 55.5 L327.5 60.5 L337.5 71.8 L345.0 84.8 L334.1 77.3 L323.2 87.0 L312.3 77.2 L301.4 84.6 L290.5 76.9 L279.6 85.7 L268.8 77.7 L257.9 85.5 L247.0 77.3 L236.1 87.1 L225.2 77.3 L214.3 86.5 L203.4 76.6 L192.5 86.1 L195.6 71.1 L200.0 73.0 L212.5 69.2 L248.8 56.1 L252.5 45.5 L242.5 43.0 L238.8 50.5 L235.0 45.5 L227.5 53.0 L228.8 45.5 L215.0 50.5 L210.0 45.5 L220.0 34.2 L237.5 29.2 L255.0 20.5 L272.5 10.5 L270.0 6.8 L258.8 6.8 L255.0 -0.1 L246.3 11.1 L242.5 10.5 L245.0 3.0 L231.3 10.5 L235.0 3.0 L222.5 3.6 L235.0 -3.2 L246.3 -10.8 L260.0 -15.8 L267.5 -24.5 L273.8 -37.0 L276.3 -53.2Z" fill="#3a6756"/>
<path d="M280.6 -47.0 L285.0 -34.5 L292.5 -24.5 L303.8 -10.8 L294.4 -14.5 L283.8 -22.0 L280.0 -15.8 L267.5 -5.8 L266.3 -9.5 L260.0 -8.2 L250.0 -3.2 L245.0 -2.0 L237.5 1.8 L232.5 0.5 L247.5 -9.5 L262.5 -15.8 L270.0 -25.8 L276.3 -39.5Z" fill="#4f9b75"/>
<path d="M272.5 14.2 L260.0 25.5 L255.0 30.5 L258.8 34.2 L250.0 39.2 L242.5 41.8 L235.0 44.2 L230.0 41.8 L222.5 45.5 L217.5 43.0 L222.5 35.5 L240.0 30.5 L255.0 21.8Z" fill="#4f9b75"/>
<path d="M281.3 13.0 L288.8 11.8 L296.3 16.8 L303.8 25.5 L300.0 26.8 L291.3 20.5 L290.0 25.5 L283.8 19.2Z" fill="#4f9b75"/>
<path d="M295.0 28.0 L306.3 29.2 L320.0 36.8 L335.0 43.0 L347.5 49.2 L350.0 54.2 L341.3 50.5 L337.5 54.2 L330.0 48.0 L326.3 51.8 L317.5 41.8 L305.0 35.5Z" fill="#4f9b75"/>
<path d="M276.3 49.2 L287.5 51.8 L291.3 60.5 L292.5 70.5 L286.3 66.8 L280.0 71.8 L275.0 66.8 L270.0 70.5 L267.5 64.2 L263.8 65.5 L266.3 58.0 L263.8 54.2Z" fill="#4f9b75"/>
<path d="M252.5 59.2 L237.5 69.2 L232.5 74.2 L222.5 78.0 L201.3 78.0 L201.3 71.8 L217.5 68.0 L237.5 61.8Z" fill="#4f9b75"/>
<path d="M327.0 46.0 L328.5 52.0 L330.2 57.4 L334.8 63.2 L340.6 68.0 L347.4 72.9 L341.3 71.4 L343.0 74.6 L338.2 75.1 L333.8 70.9 L333.8 74.3 L338.2 78.7 L344.0 84.0 L349.3 86.5 L353.7 88.9 L355.6 92.5 L351.2 90.8 L352.4 94.0 L348.3 91.3 L346.4 92.8 L343.5 89.4 L340.1 89.9 L341.1 92.3 L345.4 94.2 L349.3 98.6 L352.2 104.4 L348.0 101.0 L343.8 103.8 L339.5 100.9 L335.3 104.3 L331.1 100.0 L326.9 104.3 L322.6 100.9 L318.4 103.3 L314.2 100.0 L310.0 103.5 L305.7 99.9 L301.5 103.2 L297.3 100.0 L293.1 103.5 L294.3 98.3 L296.0 99.1 L300.8 97.6 L314.9 92.5 L316.3 88.4 L312.5 87.4 L311.0 90.3 L309.6 88.4 L306.6 91.3 L307.1 88.4 L301.8 90.3 L299.9 88.4 L303.7 84.0 L310.5 82.1 L317.3 78.7 L324.1 74.8 L323.1 73.4 L318.8 73.4 L317.3 70.7 L313.9 75.1 L312.5 74.8 L313.4 71.9 L308.1 74.8 L309.6 71.9 L304.7 72.2 L309.6 69.5 L313.9 66.6 L319.2 64.6 L322.2 61.3 L324.6 56.4 L325.5 50.1Z" fill="#3a6756"/>
<path d="M327.2 52.5 L328.9 57.4 L331.8 61.3 L336.2 66.6 L332.6 65.1 L328.5 62.2 L327.0 64.6 L322.2 68.5 L321.7 67.1 L319.2 67.6 L315.4 69.5 L313.4 70.0 L310.5 71.4 L308.6 70.9 L314.4 67.1 L320.2 64.6 L323.1 60.8 L325.5 55.4Z" fill="#4f9b75"/>
<path d="M324.1 76.3 L319.2 80.6 L317.3 82.6 L318.8 84.0 L315.4 86.0 L312.5 86.9 L309.6 87.9 L307.6 86.9 L304.7 88.4 L302.8 87.4 L304.7 84.5 L311.5 82.6 L317.3 79.2Z" fill="#4f9b75"/>
<path d="M327.5 75.8 L330.4 75.3 L333.3 77.2 L336.2 80.6 L334.8 81.1 L331.4 78.7 L330.9 80.6 L328.5 78.2Z" fill="#4f9b75"/>
<path d="M332.8 81.6 L337.2 82.1 L342.5 85.0 L348.3 87.4 L353.2 89.9 L354.1 91.8 L350.8 90.3 L349.3 91.8 L346.4 89.4 L344.9 90.8 L341.5 86.9 L336.7 84.5Z" fill="#4f9b75"/>
<path d="M325.5 89.9 L329.9 90.8 L331.4 94.2 L331.8 98.1 L329.4 96.6 L327.0 98.6 L325.1 96.6 L323.1 98.1 L322.2 95.7 L320.7 96.2 L321.7 93.2 L320.7 91.8Z" fill="#4f9b75"/>
<path d="M316.3 93.7 L310.5 97.6 L308.6 99.5 L304.7 101.0 L296.5 101.0 L296.5 98.6 L302.8 97.1 L310.5 94.7Z" fill="#4f9b75"/>
<path d="M65 75q-6 34 -7 76q12 -46 9 -76zM98 70q-4 32 0 70q6 -42 1 -70zM146 69q-6 36 -6 80q12 -48 8 -80zM222 76q-7 42 -14 93q17 -56 16 -93zM242 60q-4 43 1 95q6 -57 1 -95zM262 66q-5 43 3 96q7 -57 -1 -96zM301 67q-6 33 -4 74q12 -44 7 -74zM315 80q-4 25 2 55q5 -33 0 -55zM328 77q-5 25 -4 56q9 -33 5 -56z" fill="#8cc63f"/>
<path d="M4 71q-7 35 -9 78q14 -47 11 -78zM17 76q-5 35 8 78q4 -47 -6 -78zM50 71q-4 41 11 90q2 -54 -9 -90zM117 73q-7 38 -12 84q16 -50 14 -84zM130 74q-8 32 -18 72q20 -43 20 -72zM166 72q-6 46 5 103q7 -62 -3 -103zM183 65q-5 39 12 86q4 -51 -10 -86zM201 61q-4 41 3 90q5 -54 -2 -90zM281 77q-4 43 -2 95q8 -57 4 -95zM340 65q-6 28 -5 62q11 -37 7 -62z" fill="#3a9a3e"/>
<path d="M37 60q-4 38 -3 83q8 -50 4 -83zM80 81q-6 42 -0 93q10 -56 3 -93z" fill="#4bae4a"/>
<path d="M33 116q-6 34 -2 75q10 -45 4 -75zM62 109q-5 42 12 92q4 -55 -9 -92zM78 120q-4 39 4 88q5 -53 -2 -88zM126 117q-5 36 3 79q6 -48 -1 -79zM155 102q-6 32 -6 72q13 -43 9 -72zM175 113q-6 39 -16 88q15 -53 17 -88zM187 103q-5 40 3 89q7 -53 -1 -89zM216 114q-7 34 -10 75q15 -45 12 -75zM230 108q-6 37 -5 83q12 -50 7 -83zM330 104q-6 23 -0 51q9 -31 2 -51z" fill="#8cc63f"/>
<path d="M47 101q-5 40 6 89q6 -53 -3 -89zM95 103q-3 40 13 89q0 -53 -11 -89zM282 120q-4 47 5 104q4 -62 -3 -104zM297 103q-4 26 0 57q7 -34 2 -57zM313 120q-7 19 -0 43q11 -26 3 -43z" fill="#3a9a3e"/>
<path d="M2 115q-7 40 -3 89q12 -53 6 -89zM17 122q-7 33 -17 74q19 -44 20 -74zM107 116q-4 46 7 101q4 -61 -5 -101zM140 110q-4 41 1 92q6 -55 0 -92zM204 121q-6 32 -4 70q11 -42 6 -70zM250 109q-5 47 9 104q4 -62 -7 -104zM268 112q-6 47 -18 105q17 -63 20 -105z" fill="#4bae4a"/>
<path d="M-5 129q-6 44 2 97q9 -58 0 -97zM8 127q-7 43 -12 96q16 -57 14 -96zM22 123q-6 36 -3 81q11 -48 5 -81zM30 138q-5 45 8 100q4 -60 -6 -100zM37 122q-4 44 3 97q5 -58 -1 -97zM48 123q-6 44 -14 98q15 -59 16 -98zM73 135q-5 39 -13 86q14 -52 14 -86zM91 128q-7 32 -12 71q15 -42 14 -71zM95 118q-6 46 -5 103q12 -62 7 -103zM151 122q-4 46 5 101q5 -61 -3 -101zM157 123q-5 41 -10 91q12 -54 11 -91zM176 130q-6 43 8 95q6 -57 -6 -95zM216 124q-5 35 13 78q2 -47 -11 -78zM228 118q-5 39 4 86q7 -52 -2 -86zM241 128q-7 36 -12 80q15 -48 14 -80zM248 120q-5 36 -1 80q8 -48 3 -80zM320 120q-4 20 13 44q1 -26 -11 -44z" fill="#4bae4a"/>
<path d="M1 135q-4 38 3 85q5 -51 -2 -85zM16 135q-5 32 -11 71q13 -42 13 -71zM54 139q-4 33 7 74q3 -44 -5 -74zM79 139q-4 40 10 89q2 -53 -8 -89zM84 119q-5 44 10 97q4 -58 -8 -97zM101 124q-5 47 4 105q6 -63 -2 -105zM119 125q-7 41 -7 92q14 -55 9 -92zM130 127q-6 45 -10 99q13 -59 11 -99zM136 119q-6 34 -17 76q16 -46 19 -76zM163 125q-5 37 2 83q7 -50 -0 -83zM169 119q-5 41 5 92q7 -55 -2 -92zM189 136q-7 36 -16 81q17 -48 18 -81zM208 135q-7 36 -14 81q17 -48 16 -81zM236 138q-5 40 -7 89q11 -53 9 -89zM254 123q-4 45 1 100q6 -60 1 -100zM259 132q-5 40 4 90q6 -54 -2 -90zM266 135q-6 46 -12 103q14 -62 14 -103zM273 128q-8 36 -13 81q18 -48 16 -81zM278 140q-7 43 -12 95q16 -57 15 -95zM291 123q-7 47 -13 103q16 -62 15 -103z" fill="#8cc63f"/>
<path d="M41 140q-4 36 11 80q2 -48 -9 -80zM61 129q-5 46 6 101q6 -61 -4 -101zM66 118q-5 32 6 72q6 -43 -4 -72zM107 133q-6 35 -9 78q13 -47 11 -78zM114 126q-3 36 9 80q1 -48 -7 -80zM124 116q-4 47 12 104q2 -62 -10 -104zM143 124q-7 42 -15 93q17 -56 18 -93zM181 121q-5 41 -6 90q11 -54 8 -90zM197 130q-5 35 7 78q5 -47 -5 -78zM204 127q-5 39 -4 87q10 -52 6 -87zM223 137q-4 46 14 103q1 -62 -12 -103zM284 116q-4 35 3 79q5 -47 -2 -79z" fill="#3a9a3e"/>
<path d="M23 166q-6 37 -7 83q12 -50 9 -83zM29 163q-5 39 -3 86q9 -52 5 -86zM37 172q-5 34 14 75q2 -45 -12 -75zM50 158q-3 34 5 76q4 -46 -3 -76zM62 177q-6 33 -12 74q14 -44 14 -74zM90 168q-4 32 3 72q6 -43 -1 -72zM155 172q-4 35 7 77q4 -46 -5 -77zM162 172q-6 37 -17 82q16 -49 19 -82zM206 165q-5 41 1 90q8 -54 1 -90z" fill="#3a9a3e"/>
<path d="M2 160q-4 44 14 98q1 -59 -11 -98zM9 170q-3 38 12 84q1 -51 -11 -84zM16 170q-4 41 1 91q6 -55 1 -91zM69 161q-6 43 -11 94q14 -57 13 -94zM85 167q-7 34 -15 76q18 -46 17 -76zM97 164q-5 47 -7 104q11 -62 9 -104zM110 178q-5 40 3 89q7 -53 -1 -89zM124 164q-3 34 16 76q-1 -45 -14 -76zM131 169q-7 39 -13 87q16 -52 16 -87zM137 159q-4 39 18 87q-1 -52 -15 -87zM143 176q-3 33 9 74q1 -45 -7 -74zM148 158q-3 35 18 77q-2 -46 -16 -77zM169 167q-7 41 -16 91q17 -55 18 -91zM182 169q-5 34 5 75q7 -45 -2 -75zM188 175q-4 46 15 102q1 -61 -13 -102zM194 167q-6 45 -0 100q10 -60 3 -100zM200 160q-5 37 3 82q6 -49 -1 -82zM212 163q-4 40 4 89q6 -53 -2 -89zM217 175q-5 37 4 82q6 -49 -2 -82zM230 173q-7 39 -13 88q16 -53 15 -88zM244 163q-5 36 1 79q8 -47 1 -79zM259 167q-6 45 3 101q8 -60 -1 -101zM267 172q-4 33 9 74q3 -44 -7 -74zM275 178q-7 46 -12 102q16 -61 14 -102zM279 169q-5 43 10 95q4 -57 -8 -95zM284 174q-7 42 -6 93q13 -56 8 -93z" fill="#8cc63f"/>
<path d="M42 167q-5 46 7 102q6 -61 -4 -102zM58 158q-5 47 -3 105q8 -63 4 -105zM74 170q-7 36 -15 80q17 -48 18 -80zM80 174q-4 33 13 73q1 -44 -11 -73zM103 175q-6 39 -7 88q12 -53 9 -88zM118 163q-5 39 10 88q4 -53 -8 -88zM174 177q-4 44 14 97q1 -58 -12 -97zM222 178q-4 35 15 78q0 -47 -13 -78zM237 177q-6 35 -4 78q11 -47 6 -78zM248 170q-4 34 6 75q4 -45 -5 -75zM253 160q-8 35 -13 78q17 -47 16 -78z" fill="#4bae4a"/>
<path d="M10 198q-7 33 -14 74q17 -45 16 -74zM18 211q-5 43 3 95q7 -57 -1 -95zM29 219q-4 33 -3 73q8 -44 4 -73zM60 201q-5 38 15 83q2 -50 -12 -83zM73 206q-4 33 -4 73q8 -44 5 -73zM90 213q-6 37 -14 81q15 -49 16 -81zM96 218q-5 44 6 97q6 -58 -4 -97zM102 197q-5 33 9 72q4 -43 -7 -72zM125 213q-8 44 -13 98q17 -59 16 -98zM138 216q-5 36 -8 79q11 -48 10 -79zM144 217q-6 45 -4 100q11 -60 6 -100zM154 203q-6 43 -15 95q15 -57 16 -95zM160 220q-6 33 -4 74q11 -44 7 -74zM176 204q-5 46 -10 102q12 -61 12 -102zM193 215q-5 47 1 105q7 -63 1 -105zM198 204q-6 47 -0 105q10 -63 3 -105zM204 212q-7 47 -13 104q16 -63 15 -104zM210 219q-4 28 0 62q6 -37 2 -62zM234 220q-4 19 11 42q2 -25 -9 -42zM247 209q-3 26 17 58q-2 -35 -15 -58zM262 209q-6 22 3 49q9 -29 -1 -49zM269 203q-5 25 -7 55q11 -33 9 -55z" fill="#8cc63f"/>
<path d="M2 211q-5 33 -2 73q9 -44 4 -73zM35 206q-6 36 -10 81q13 -48 12 -81zM48 212q-5 32 12 72q3 -43 -9 -72zM53 209q-7 41 -15 91q18 -55 18 -91zM78 199q-6 45 -5 100q12 -60 7 -100zM107 213q-6 44 -9 99q14 -59 11 -99zM168 198q-5 44 6 98q6 -59 -4 -98zM181 204q-4 33 13 73q1 -44 -11 -73zM254 199q-3 35 9 79q1 -47 -8 -79zM284 196q-6 33 -0 73q10 -44 3 -73z" fill="#3a9a3e"/>
<path d="M-3 209q-7 37 -6 82q13 -49 9 -82zM24 198q-3 46 8 102q2 -61 -6 -102zM40 213q-6 45 -1 99q10 -59 4 -99zM67 219q-3 43 18 96q-2 -58 -16 -96zM86 202q-5 44 7 97q6 -58 -4 -97zM114 202q-4 38 -5 84q9 -50 6 -84zM120 218q-3 45 14 100q-0 -60 -12 -100zM130 220q-4 36 5 80q4 -48 -3 -80zM149 216q-5 41 7 92q5 -55 -5 -92zM189 211q-7 41 -9 90q15 -54 11 -90zM216 210q-6 26 1 59q9 -35 1 -59zM223 202q-7 47 -10 104q15 -63 12 -104zM230 198q-6 26 -11 59q14 -35 13 -59zM240 215q-5 20 -11 44q13 -27 13 -44zM277 198q-5 24 9 54q4 -32 -7 -54zM290 203q-8 27 -17 59q20 -36 19 -59z" fill="#4bae4a"/>
<path d="M19 246q-8 44 -14 97q18 -58 17 -97zM37 245q-6 41 -8 92q13 -55 10 -92zM44 250q-7 36 -14 80q16 -48 16 -80zM129 259q-4 46 17 102q0 -61 -14 -102zM142 248q-5 36 8 80q5 -48 -6 -80zM156 242q-6 33 -7 73q13 -44 9 -73z" fill="#3a9a3e"/>
<path d="M-5 247q-4 44 12 98q2 -59 -10 -98zM57 236q-7 32 -3 70q12 -42 6 -70zM77 251q-6 35 8 78q6 -47 -6 -78zM110 242q-4 40 9 89q3 -53 -7 -89zM150 256q-4 33 17 74q0 -45 -15 -74zM180 244q-8 39 -15 87q19 -52 18 -87zM200 243q-4 23 10 51q2 -30 -8 -51zM207 254q-6 25 -14 56q14 -34 15 -56z" fill="#4bae4a"/>
<path d="M-1 256q-4 46 5 103q5 -62 -3 -103zM5 246q-5 44 15 97q2 -58 -12 -97zM11 251q-5 41 12 91q3 -54 -10 -91zM24 237q-3 34 7 76q2 -45 -6 -76zM31 238q-4 34 8 76q4 -46 -6 -76zM50 237q-7 32 -11 70q16 -42 13 -70zM65 245q-6 32 -14 71q15 -42 16 -71zM69 251q-7 47 -8 104q14 -62 10 -104zM83 241q-6 32 -0 71q10 -42 3 -71zM90 260q-5 44 -4 97q9 -58 6 -97zM96 247q-6 47 1 103q9 -62 2 -103zM103 238q-2 37 17 82q-3 -49 -15 -82zM116 257q-7 47 -10 104q15 -62 12 -104zM122 241q-6 34 -17 75q16 -45 18 -75zM134 260q-6 32 -5 72q11 -43 7 -72zM162 257q-6 35 1 77q9 -46 1 -77zM169 244q-6 38 4 85q8 -51 -1 -85zM174 242q-3 40 15 89q-1 -54 -13 -89zM186 252q-5 27 6 60q5 -36 -4 -60zM192 252q-3 21 17 46q-2 -28 -15 -46zM220 247q-5 28 -11 63q13 -38 13 -63zM227 239q-5 33 -15 74q14 -44 16 -74z" fill="#8cc63f"/>
<path d="M-4 279q-3 45 17 99q-2 -60 -15 -99zM10 298q-5 38 -6 85q10 -51 8 -85zM35 292q-4 38 16 83q0 -50 -14 -83zM42 296q-5 40 16 89q1 -53 -14 -89zM54 277q-6 36 -4 80q11 -48 6 -80zM73 289q-4 36 11 80q2 -48 -9 -80zM79 276q-5 38 10 85q3 -51 -7 -85zM118 281q-6 35 5 78q7 -47 -3 -78zM131 294q-7 40 -8 89q15 -53 11 -89zM164 277q-5 40 7 89q6 -53 -5 -89zM176 299q-6 38 -11 85q15 -51 13 -85zM194 284q-6 44 -7 98q12 -59 9 -98z" fill="#4bae4a"/>
<path d="M15 277q-5 35 -7 77q11 -46 9 -77zM22 295q-5 43 -8 96q11 -58 10 -96zM47 276q-6 39 -3 87q10 -52 5 -87zM60 300q-5 32 -13 70q13 -42 14 -70zM93 299q-4 36 -4 80q9 -48 6 -80zM157 291q-5 43 2 96q8 -58 0 -96zM181 282q-7 37 -7 82q14 -49 10 -82z" fill="#3a9a3e"/>
<path d="M4 276q-3 45 14 101q-1 -60 -13 -101zM28 277q-5 40 -1 89q8 -54 3 -89zM66 296q-7 35 -5 77q13 -46 7 -77zM87 288q-6 39 -13 86q15 -51 15 -86zM99 283q-4 37 -3 82q8 -49 5 -82zM106 291q-4 39 3 86q5 -52 -1 -86zM113 278q-4 32 2 71q5 -42 -1 -71zM125 283q-6 40 -9 88q13 -53 11 -88zM138 296q-7 44 -12 99q16 -59 15 -99zM145 276q-3 43 16 94q-2 -57 -14 -94zM150 299q-5 36 12 80q3 -48 -9 -80zM170 294q-4 34 17 76q-0 -46 -15 -76z" fill="#8cc63f"/>
<path d="M140.3 2056.1 L144.1 2072.1 L148.6 2086.1 L160.7 2101.4 L176.0 2114.2 L193.9 2126.9 L177.9 2123.1 L182.4 2131.4 L169.6 2132.7 L158.2 2121.8 L158.2 2130.8 L169.6 2142.2 L184.9 2156.3 L199.0 2162.7 L210.5 2169.0 L215.6 2178.6 L204.1 2174.1 L207.3 2182.4 L196.4 2175.4 L191.3 2179.2 L183.7 2170.3 L174.7 2171.6 L177.3 2178.0 L188.8 2183.1 L199.0 2194.5 L206.6 2200.9 L51.0 2200.9 L54.2 2193.9 L58.7 2195.8 L71.4 2192.0 L108.4 2178.6 L112.2 2167.8 L102.0 2165.2 L98.2 2172.9 L94.4 2167.8 L86.7 2175.4 L88.0 2167.8 L74.0 2172.9 L68.9 2167.8 L79.1 2156.3 L96.9 2151.2 L114.8 2142.2 L132.7 2132.0 L130.1 2128.2 L118.6 2128.2 L114.8 2121.2 L105.9 2132.7 L102.0 2132.0 L104.6 2124.4 L90.6 2132.0 L94.4 2124.4 L81.6 2125.0 L94.4 2118.0 L105.9 2110.4 L119.9 2105.3 L127.6 2096.3 L133.9 2083.6 L136.5 2067.0Z" fill="#3a6756"/>
<path d="M140.9 2073.4 L145.4 2086.1 L153.1 2096.3 L164.5 2110.4 L155.0 2106.5 L144.1 2098.9 L140.3 2105.3 L127.6 2115.5 L126.3 2111.6 L119.9 2112.9 L109.7 2118.0 L104.6 2119.3 L96.9 2123.1 L91.8 2121.8 L107.1 2111.6 L122.4 2105.3 L130.1 2095.1 L136.5 2081.0Z" fill="#4f9b75"/>
<path d="M132.7 2135.9 L119.9 2147.3 L114.8 2152.4 L118.6 2156.3 L109.7 2161.4 L102.0 2163.9 L94.4 2166.5 L89.3 2163.9 L81.6 2167.8 L76.5 2165.2 L81.6 2157.6 L99.5 2152.4 L114.8 2143.5Z" fill="#4f9b75"/>
<path d="M141.6 2134.6 L149.2 2133.3 L156.9 2138.4 L164.5 2147.3 L160.7 2148.6 L151.8 2142.2 L150.5 2147.3 L144.1 2141.0Z" fill="#4f9b75"/>
<path d="M155.6 2149.9 L167.1 2151.2 L181.1 2158.8 L196.4 2165.2 L209.2 2171.6 L211.7 2176.7 L202.8 2172.9 L199.0 2176.7 L191.3 2170.3 L187.5 2174.1 L178.6 2163.9 L165.8 2157.6Z" fill="#4f9b75"/>
<path d="M136.5 2171.6 L148.0 2174.1 L151.8 2183.1 L153.1 2193.3 L146.7 2189.4 L140.3 2194.5 L135.2 2189.4 L130.1 2193.3 L127.6 2186.9 L123.7 2188.2 L126.3 2180.5 L123.7 2176.7Z" fill="#4f9b75"/>
<path d="M112.2 2181.8 L96.9 2192.0 L91.8 2197.1 L81.6 2200.9 L59.9 2200.9 L59.9 2194.5 L76.5 2190.7 L96.9 2184.3Z" fill="#4f9b75"/>
<defs><radialGradient id="fg" cx="0.48" cy="0.92" r="0.8"><stop offset="0" stop-color="#fffce0"/><stop offset="0.4" stop-color="#fdf3a8"/><stop offset="0.75" stop-color="#fbe890"/><stop offset="1" stop-color="#f3c873"/></radialGradient><linearGradient id="fl" x1="0" y1="0" x2="0" y2="1"><stop offset="0" stop-color="#c8a257" stop-opacity="0.55"/><stop offset="0.35" stop-color="#dba050"/><stop offset="0.75" stop-color="#ec9a66"/><stop offset="1" stop-color="#ee9e70"/></linearGradient><linearGradient id="fw" x1="0" y1="0" x2="0" y2="1"><stop offset="0" stop-color="#c4a866" stop-opacity="0.1"/><stop offset="0.6" stop-color="#c9a35a" stop-opacity="0.75"/><stop offset="1" stop-color="#d6a24e"/></linearGradient><filter id="fb" x="-20%" y="-20%" width="140%" height="140%"><feGaussianBlur stdDeviation="1.3"/></filter></defs>
<circle cx="782" cy="405.6" r="92.6" fill="#000"/>
<g filter="url(#fb)">
<path d="M773.5 330.0C768.5 305.1 779.0 287.4 773.0 259.0C777.2 290.9 778.5 308.7 782.5 330.0Z" fill="url(#fw)"/>
<path d="M788.0 335.0C792.0 319.2 784.2 308.0 789.0 290.0C789.4 310.2 799.2 321.5 796.0 335.0Z" fill="url(#fw)"/>
<path d="M808.0 340.0C804.0 327.4 817.8 318.4 813.0 304.0C816.6 320.2 812.8 329.2 816.0 340.0Z" fill="url(#fw)"/>
<path d="M744.0 345.0C741.0 335.6 749.6 328.8 746.0 318.0C749.2 330.1 749.6 336.9 752.0 345.0Z" fill="url(#fw)"/>
<path d="M729.0 412.0C734.0 380.1 738.0 357.4 744.0 321.0C746.5 361.9 751.0 384.7 747.0 412.0Z" fill="url(#fl)"/>
<path d="M745.0 412.0C740.0 381.9 767.0 360.4 761.0 326.0C767.5 364.7 759.0 386.2 763.0 412.0Z" fill="url(#fl)"/>
<path d="M762.0 412.0C768.0 377.0 772.8 352.0 780.0 312.0C783.1 357.0 788.8 382.0 784.0 412.0Z" fill="url(#fl)"/>
<path d="M781.0 412.0C776.0 377.7 800.0 353.2 794.0 314.0C800.5 358.1 795.0 382.6 799.0 412.0Z" fill="url(#fl)"/>
<path d="M795.0 412.0C800.0 380.1 800.0 357.4 806.0 321.0C809.0 361.9 819.0 384.7 815.0 412.0Z" fill="url(#fl)"/>
<path d="M811.0 412.0C807.0 384.7 819.8 365.2 815.0 334.0C821.1 369.1 825.8 388.6 829.0 412.0Z" fill="url(#fl)"/>
<path d="M828.0 415.0C832.0 393.6 839.2 378.4 844.0 354.0C846.4 381.4 847.2 396.7 844.0 415.0Z" fill="url(#fl)"/>
<path d="M723.0 418.0C720.0 394.9 732.6 378.4 729.0 352.0C732.7 381.7 730.6 398.2 733.0 418.0Z" fill="url(#fl)"/>
<path d="M730 425 C728 400 736 378 746 372 C752 384 758 380 764 366 C770 380 776 384 782 362 C790 380 796 384 802 368 C808 384 814 388 822 374 C826 388 834 392 840 380 C846 396 842 412 840 428 Z" fill="#ee9c6e"/>
<path d="M 727 422 C 726 404 734 396 742 388 C 748 398 752 406 758 398 C 764 388 770 394 776 404 C 782 394 790 386 796 400 C 802 410 810 394 818 386 C 824 398 828 404 834 392 C 840 398 838 406 842 414 C 834 420 838 426 844 432 C 846 442 838 449 826 452 C 812 455 804 452 794 454 C 780 456 770 452 758 455 C 740 453 729 440 727 422 Z" fill="url(#fg)"/>
<path d="M746 392 q8.1 14.3 0 26 q-8.1 -11.700000000000001 0 -26z" fill="#f0a56c" opacity="0.85"/>
<path d="M762 390 q8.1 16.5 0 30 q-8.1 -13.5 0 -30z" fill="#efa070" opacity="0.85"/>
<path d="M779 380 q9.0 18.700000000000003 0 34 q-9.0 -15.3 0 -34z" fill="#f0a878" opacity="0.85"/>
<path d="M797 388 q8.1 16.5 0 30 q-8.1 -13.5 0 -30z" fill="#ee9f70" opacity="0.85"/>
<path d="M813 386 q7.2 14.3 0 26 q-7.2 -11.700000000000001 0 -26z" fill="#efa46c" opacity="0.85"/>
<path d="M828 394 q7.2 12.100000000000001 0 22 q-7.2 -9.9 0 -22z" fill="#ef9f70" opacity="0.85"/>
<path d="M758 418 q6.3 9.9 0 18 q-6.3 -8.1 0 -18z" fill="#f7dc60" opacity="0.85"/>
<path d="M776 418 q7.2 11.0 0 20 q-7.2 -9.0 0 -20z" fill="#f7dc60" opacity="0.85"/>
<path d="M794 416 q6.3 9.9 0 18 q-6.3 -8.1 0 -18z" fill="#f3c878" opacity="0.85"/>
<path d="M812 416 q5.4 8.8 0 16 q-5.4 -7.2 0 -16z" fill="#f3c878" opacity="0.85"/>
<path d="M838 352 q-10 14 -2 26 q6 -12 2 -26z M846 392 q-12 8 -8 20 q8 -8 8 -20z M842 424 q-10 2 -12 10 q10 0 12 -10z" fill="#000" opacity="0.8"/>
</g>
<path d="M281 1156 V721 H475 L680 793 H1803.5 V949" fill="none" stroke="#3c3c3c" stroke-width="1.2" stroke-dasharray="10 6"/>
<path d="M281 1156 H56 V1377 H268" fill="none" stroke="#3c3c3c" stroke-width="1.2" stroke-dasharray="10 6"/>
<path d="M2064 984 H2767 V654" fill="none" stroke="#3c3c3c" stroke-width="1.2" stroke-dasharray="8 5"/>
<path d="M1792.3 1811 V2002.5 H1479" fill="none" stroke="#3c3c3c" stroke-width="1.2" stroke-dasharray="10 6"/>
<path d="M843.3 1985 V2000 H854" fill="none" stroke="#3c3c3c" stroke-width="1.2"/>
<path d="M854.5 2002 H945.7 M854.5 2112 H945.7 M854.5 2002 V2112" fill="none" stroke="#222" stroke-width="1.6" stroke-dasharray="22 12"/>
<path d="M945.7 2002 H1479 M945.7 2112 H1479" fill="none" stroke="#333" stroke-width="1.3" stroke-dasharray="10 6"/>
<line x1="947.3" y1="2002.0" x2="947.3" y2="2112.0" stroke="#ccc" stroke-width="1"/>
<line x1="947.3" y1="2002.0" x2="947.3" y2="2016.0" stroke="#333" stroke-width="1.4"/>
<line x1="947.3" y1="2094.0" x2="947.3" y2="2112.0" stroke="#333" stroke-width="1.4"/>
<line x1="982.8" y1="2002.0" x2="982.8" y2="2112.0" stroke="#ccc" stroke-width="1"/>
<line x1="982.8" y1="2002.0" x2="982.8" y2="2016.0" stroke="#333" stroke-width="1.4"/>
<line x1="982.8" y1="2094.0" x2="982.8" y2="2112.0" stroke="#333" stroke-width="1.4"/>
<line x1="1018.2" y1="2002.0" x2="1018.2" y2="2112.0" stroke="#ccc" stroke-width="1"/>
<line x1="1018.2" y1="2002.0" x2="1018.2" y2="2016.0" stroke="#333" stroke-width="1.4"/>
<line x1="1018.2" y1="2094.0" x2="1018.2" y2="2112.0" stroke="#333" stroke-width="1.4"/>
<line x1="1053.6" y1="2002.0" x2="1053.6" y2="2112.0" stroke="#ccc" stroke-width="1"/>
<line x1="1053.6" y1="2002.0" x2="1053.6" y2="2016.0" stroke="#333" stroke-width="1.4"/>
<line x1="1053.6" y1="2094.0" x2="1053.6" y2="2112.0" stroke="#333" stroke-width="1.4"/>
<line x1="1089.1" y1="2002.0" x2="1089.1" y2="2112.0" stroke="#ccc" stroke-width="1"/>
<line x1="1089.1" y1="2002.0" x2="1089.1" y2="2016.0" stroke="#333" stroke-width="1.4"/>
<line x1="1089.1" y1="2094.0" x2="1089.1" y2="2112.0" stroke="#333" stroke-width="1.4"/>
<line x1="1124.5" y1="2002.0" x2="1124.5" y2="2112.0" stroke="#ccc" stroke-width="1"/>
<line x1="1124.5" y1="2002.0" x2="1124.5" y2="2016.0" stroke="#333" stroke-width="1.4"/>
<line x1="1124.5" y1="2094.0" x2="1124.5" y2="2112.0" stroke="#333" stroke-width="1.4"/>
<line x1="1160.0" y1="2002.0" x2="1160.0" y2="2112.0" stroke="#ccc" stroke-width="1"/>
<line x1="1160.0" y1="2002.0" x2="1160.0" y2="2016.0" stroke="#333" stroke-width="1.4"/>
<line x1="1160.0" y1="2094.0" x2="1160.0" y2="2112.0" stroke="#333" stroke-width="1.4"/>
<line x1="1195.5" y1="2002.0" x2="1195.5" y2="2112.0" stroke="#ccc" stroke-width="1"/>
<line x1="1195.5" y1="2002.0" x2="1195.5" y2="2016.0" stroke="#333" stroke-width="1.4"/>
<line x1="1195.5" y1="2094.0" x2="1195.5" y2="2112.0" stroke="#333" stroke-width="1.4"/>
<line x1="1230.9" y1="2002.0" x2="1230.9" y2="2112.0" stroke="#ccc" stroke-width="1"/>
<line x1="1230.9" y1="2002.0" x2="1230.9" y2="2016.0" stroke="#333" stroke-width="1.4"/>
<line x1="1230.9" y1="2094.0" x2="1230.9" y2="2112.0" stroke="#333" stroke-width="1.4"/>
<line x1="1266.3" y1="2002.0" x2="1266.3" y2="2112.0" stroke="#ccc" stroke-width="1"/>
<line x1="1266.3" y1="2002.0" x2="1266.3" y2="2016.0" stroke="#333" stroke-width="1.4"/>
<line x1="1266.3" y1="2094.0" x2="1266.3" y2="2112.0" stroke="#333" stroke-width="1.4"/>
<line x1="1301.8" y1="2002.0" x2="1301.8" y2="2112.0" stroke="#ccc" stroke-width="1"/>
<line x1="1301.8" y1="2002.0" x2="1301.8" y2="2016.0" stroke="#333" stroke-width="1.4"/>
<line x1="1301.8" y1="2094.0" x2="1301.8" y2="2112.0" stroke="#333" stroke-width="1.4"/>
<line x1="1337.2" y1="2002.0" x2="1337.2" y2="2112.0" stroke="#ccc" stroke-width="1"/>
<line x1="1337.2" y1="2002.0" x2="1337.2" y2="2016.0" stroke="#333" stroke-width="1.4"/>
<line x1="1337.2" y1="2094.0" x2="1337.2" y2="2112.0" stroke="#333" stroke-width="1.4"/>
<line x1="1372.7" y1="2002.0" x2="1372.7" y2="2112.0" stroke="#ccc" stroke-width="1"/>
<line x1="1372.7" y1="2002.0" x2="1372.7" y2="2016.0" stroke="#333" stroke-width="1.4"/>
<line x1="1372.7" y1="2094.0" x2="1372.7" y2="2112.0" stroke="#333" stroke-width="1.4"/>
<line x1="1408.2" y1="2002.0" x2="1408.2" y2="2112.0" stroke="#ccc" stroke-width="1"/>
<line x1="1408.2" y1="2002.0" x2="1408.2" y2="2016.0" stroke="#333" stroke-width="1.4"/>
<line x1="1408.2" y1="2094.0" x2="1408.2" y2="2112.0" stroke="#333" stroke-width="1.4"/>
<line x1="1443.6" y1="2002.0" x2="1443.6" y2="2112.0" stroke="#ccc" stroke-width="1"/>
<line x1="1443.6" y1="2002.0" x2="1443.6" y2="2016.0" stroke="#333" stroke-width="1.4"/>
<line x1="1443.6" y1="2094.0" x2="1443.6" y2="2112.0" stroke="#333" stroke-width="1.4"/>
<line x1="1479.0" y1="2002.0" x2="1479.0" y2="2112.0" stroke="#ccc" stroke-width="1"/>
<line x1="1479.0" y1="2002.0" x2="1479.0" y2="2016.0" stroke="#333" stroke-width="1.4"/>
<line x1="1479.0" y1="2094.0" x2="1479.0" y2="2112.0" stroke="#333" stroke-width="1.4"/>
<path d="M158 1380.4 V2017.4 H268 V1985" fill="none" stroke="#333" stroke-width="1.3" stroke-dasharray="19 5"/>
<path d="M158 1380.4 H268" fill="none" stroke="#333" stroke-width="1.3" stroke-dasharray="19 5"/>
<line x1="158.0" y1="1415.8" x2="268.0" y2="1415.8" stroke="#333" stroke-width="1.3" stroke-dasharray="19 5"/>
<line x1="158.0" y1="1451.2" x2="268.0" y2="1451.2" stroke="#333" stroke-width="1.3" stroke-dasharray="19 5"/>
<line x1="158.0" y1="1486.6" x2="268.0" y2="1486.6" stroke="#333" stroke-width="1.3" stroke-dasharray="19 5"/>
<line x1="158.0" y1="1522.0" x2="268.0" y2="1522.0" stroke="#333" stroke-width="1.3" stroke-dasharray="19 5"/>
<line x1="158.0" y1="1557.4" x2="268.0" y2="1557.4" stroke="#333" stroke-width="1.3" stroke-dasharray="19 5"/>
<line x1="158.0" y1="1592.7" x2="268.0" y2="1592.7" stroke="#333" stroke-width="1.3" stroke-dasharray="19 5"/>
<line x1="158.0" y1="1628.1" x2="268.0" y2="1628.1" stroke="#333" stroke-width="1.3" stroke-dasharray="19 5"/>
<line x1="158.0" y1="1663.5" x2="268.0" y2="1663.5" stroke="#333" stroke-width="1.3" stroke-dasharray="19 5"/>
<line x1="158.0" y1="1698.9" x2="268.0" y2="1698.9" stroke="#333" stroke-width="1.3" stroke-dasharray="19 5"/>
<line x1="158.0" y1="1734.3" x2="268.0" y2="1734.3" stroke="#333" stroke-width="1.3" stroke-dasharray="19 5"/>
<line x1="158.0" y1="1769.7" x2="268.0" y2="1769.7" stroke="#333" stroke-width="1.3" stroke-dasharray="19 5"/>
<line x1="158.0" y1="1805.1" x2="268.0" y2="1805.1" stroke="#333" stroke-width="1.3" stroke-dasharray="19 5"/>
<line x1="158.0" y1="1840.5" x2="268.0" y2="1840.5" stroke="#333" stroke-width="1.3" stroke-dasharray="19 5"/>
<line x1="158.0" y1="1875.9" x2="268.0" y2="1875.9" stroke="#333" stroke-width="1.3" stroke-dasharray="19 5"/>
<line x1="158.0" y1="1911.2" x2="268.0" y2="1911.2" stroke="#333" stroke-width="1.3" stroke-dasharray="19 5"/>
<line x1="158.0" y1="1946.6" x2="268.0" y2="1946.6" stroke="#333" stroke-width="1.3" stroke-dasharray="19 5"/>
<line x1="158.0" y1="1982.0" x2="268.0" y2="1982.0" stroke="#333" stroke-width="1.3" stroke-dasharray="19 5"/>
<line x1="843.0" y1="1753.3" x2="1056.0" y2="1753.3" stroke="#3c3c3c" stroke-width="1.3" stroke-dasharray="10 6"/>
<line x1="843.0" y1="1780.7" x2="1056.0" y2="1780.7" stroke="#3c3c3c" stroke-width="1.3" stroke-dasharray="10 6"/>
<rect x="2382.0" y="6.5" width="658.0" height="647.5" fill="none" stroke="#444" stroke-width="1.3"/>
<rect x="3024.0" y="80.0" width="33.0" height="500.0" fill="#fff" stroke="#111" stroke-width="1.8" stroke-dasharray="7 4"/>
<line x1="2608.0" y1="573.0" x2="2608.0" y2="654.0" stroke="#000" stroke-width="1.8"/>
<path d="M2608 573 A81 81 0 0 1 2686 650" fill="none" stroke="#000" stroke-width="1.6" stroke-dasharray="26 22"/>
<line x1="2767.0" y1="654.0" x2="2992.0" y2="654.0" stroke="#3c3c3c" stroke-width="1.2" stroke-dasharray="10 6"/>
<rect x="2877.0" y="654.0" width="26.0" height="329.0" fill="#000"/>
<line x1="2906.0" y1="656.0" x2="2906.0" y2="1127.0" stroke="#222" stroke-width="1.4" stroke-dasharray="22 10"/>
<line x1="2935.0" y1="656.0" x2="2935.0" y2="1127.0" stroke="#222" stroke-width="1.4" stroke-dasharray="22 10"/>
<line x1="2963.5" y1="656.0" x2="2963.5" y2="1127.0" stroke="#222" stroke-width="1.4" stroke-dasharray="22 10"/>
<line x1="2992.5" y1="656.0" x2="2992.5" y2="1127.0" stroke="#222" stroke-width="1.4" stroke-dasharray="22 10"/>
<line x1="2906.0" y1="1127.4" x2="2992.5" y2="1127.4" stroke="#222" stroke-width="1.4" stroke-dasharray="12 7"/>
<path d="M1066 1026 V952.3 H2062 V1178.5 H2255 V1133.5 H2722" fill="none" stroke="#000" stroke-width="5" stroke-linejoin="miter" stroke-linecap="butt"/>
<path d="M1066 1254 V1488 H1054" fill="none" stroke="#000" stroke-width="5" stroke-linejoin="miter" stroke-linecap="butt"/>
<path d="M1045 1724 H1056 V1804.6 H2725" fill="none" stroke="#000" stroke-width="5" stroke-linejoin="miter" stroke-linecap="butt"/>
<path d="M2722.5 1512 V1807" fill="none" stroke="#000" stroke-width="5" stroke-linejoin="miter" stroke-linecap="butt"/>
<rect x="1008.0" y="1026.0" width="58.0" height="228.0" fill="#000"/>
<line x1="1008.0" y1="1031.5" x2="1068.0" y2="1031.5" stroke="#fff" stroke-width="1.6"/>
<line x1="1008.0" y1="1248.5" x2="1068.0" y2="1248.5" stroke="#fff" stroke-width="1.6"/>
<rect x="999.5" y="1052.0" width="12.2" height="174.0" fill="#fff" stroke="#444" stroke-width="1.2" stroke-dasharray="16 7"/>
<rect x="1147.0" y="946.6" width="309.5" height="14.0" fill="#fff" stroke="#3a3a3a" stroke-width="1.2" stroke-dasharray="9 5"/>
<line x1="1231.5" y1="946.6" x2="1231.5" y2="960.6" stroke="#555" stroke-width="1"/>
<line x1="1358.0" y1="946.6" x2="1358.0" y2="960.6" stroke="#555" stroke-width="1"/>
<rect x="1476.6" y="949.0" width="94.4" height="229.0" fill="#000"/>
<rect x="1476.6" y="949.0" width="373.4" height="60.0" fill="#000"/>
<rect x="1746.0" y="949.0" width="104.0" height="116.4" fill="#000"/>
<rect x="1590.0" y="946.6" width="144.0" height="10.4" fill="#fff" stroke="#3a3a3a" stroke-width="1.2" stroke-dasharray="9 5"/>
<rect x="1633.0" y="971.0" width="59.0" height="32.0" fill="#fff"/>
<rect x="1877.0" y="946.6" width="147.0" height="10.4" fill="#fff" stroke="#3a3a3a" stroke-width="1.2" stroke-dasharray="9 5"/>
<rect x="1456.5" y="1027.0" width="9.5" height="33.0" fill="#000"/>
<rect x="1456.5" y="1065.0" width="9.5" height="31.0" fill="#000"/>
<rect x="1456.5" y="1100.5" width="9.5" height="32.5" fill="#000"/>
<rect x="1456.5" y="1139.0" width="9.5" height="33.0" fill="#000"/>
<rect x="1522.5" y="1055.0" width="44.5" height="60.5" fill="#ddd"/>
<circle cx="1534.5" cy="1068.5" r="7.6" fill="#000"/>
<circle cx="1534.5" cy="1104" r="7.6" fill="#000"/>
<circle cx="1556" cy="1068.5" r="7.6" fill="#000"/>
<circle cx="1556" cy="1104" r="7.6" fill="#000"/>
<rect x="1527.5" y="1081.5" width="36.0" height="9.0" fill="#000" rx="4.5"/>
<rect x="1747.0" y="1126.0" width="103.0" height="104.5" fill="#000"/>
<rect x="1734.0" y="1135.0" width="98.5" height="86.6" fill="#e0e0e0"/>
<rect x="2080.4" y="1173.4" width="30.6" height="10.6" fill="#fff" stroke="#3a3a3a" stroke-width="1.2" stroke-dasharray="9 5"/>
<rect x="2141.0" y="1173.4" width="31.0" height="10.6" fill="#fff" stroke="#3a3a3a" stroke-width="1.2" stroke-dasharray="9 5"/>
<rect x="2202.0" y="1173.4" width="31.0" height="10.6" fill="#fff" stroke="#3a3a3a" stroke-width="1.2" stroke-dasharray="9 5"/>
<rect x="2382.6" y="1127.6" width="30.9" height="10.8" fill="#fff" stroke="#3a3a3a" stroke-width="1.2" stroke-dasharray="9 5"/>
<rect x="2445.0" y="1127.6" width="32.0" height="10.8" fill="#fff" stroke="#3a3a3a" stroke-width="1.2" stroke-dasharray="9 5"/>
<rect x="2509.0" y="1127.6" width="31.0" height="10.8" fill="#fff" stroke="#3a3a3a" stroke-width="1.2" stroke-dasharray="9 5"/>
<rect x="2573.0" y="1127.6" width="31.0" height="10.8" fill="#fff" stroke="#3a3a3a" stroke-width="1.2" stroke-dasharray="9 5"/>
<line x1="1985.5" y1="1089.0" x2="2064.0" y2="1089.0" stroke="#000" stroke-width="1.8"/>
<path d="M1985.5 1089 Q1986 1076 1990 1065" fill="none" stroke="#000" stroke-width="1.6"/>
<path d="M2037 1018 Q2049 1014.5 2062 1015" fill="none" stroke="#000" stroke-width="1.6"/>
<circle cx="1230" cy="1111" r="62.4" fill="#000"/>
<rect x="1218.0" y="1024.7" width="27.5" height="14.3" fill="#000"/>
<rect x="1218.0" y="1188.4" width="27.5" height="13.1" fill="#000"/>
<rect x="1145.5" y="1098.6" width="12.1" height="36.0" fill="#000"/>
<rect x="1304.0" y="1098.6" width="13.0" height="36.0" fill="#000"/>
<rect x="1193.0" y="1257.6" width="261.0" height="170.4" fill="#fff" stroke="#333" stroke-width="1.2"/>
<rect x="1193.0" y="1281.0" width="77.0" height="126.0" fill="none" stroke="#222" stroke-width="1.4" stroke-dasharray="17 9"/>
<line x1="1345.6" y1="1205.7" x2="1345.6" y2="1257.6" stroke="#000" stroke-width="1.6"/>
<path d="M1345.6 1205.7 A50 52 0 0 1 1395 1256" fill="none" stroke="#000" stroke-width="1.4" stroke-dasharray="18 14"/>
<rect x="1746.5" y="1344.0" width="212.5" height="21.0" fill="#e4e4e4" stroke="#666" stroke-width="1" stroke-dasharray="9 5"/>
<rect x="1746.5" y="1368.5" width="212.5" height="25.5" fill="#e4e4e4" stroke="#666" stroke-width="1" stroke-dasharray="9 5"/>
<rect x="1570.6" y="1297.4" width="175.9" height="98.6" fill="#000" stroke="#333" stroke-width="1" stroke-dasharray="6 4"/>
<rect x="1567.3" y="1395.0" width="23.0" height="403.0" fill="#e4e4e4" stroke="#777" stroke-width="1" stroke-dasharray="9 5"/>
<rect x="1593.0" y="1395.0" width="25.3" height="403.0" fill="#e4e4e4" stroke="#777" stroke-width="1" stroke-dasharray="9 5"/>
<rect x="1959.3" y="1270.0" width="295.7" height="126.0" fill="#fff" stroke="#333" stroke-width="1.2"/>
<line x1="2172.0" y1="1270.0" x2="2172.0" y2="1396.0" stroke="#333" stroke-width="1.2"/>
<rect x="1959.3" y="1346.5" width="212.7" height="47.0" fill="#000"/>
<rect x="1959.3" y="1319.4" width="50.7" height="27.6" fill="#000"/>
<ellipse cx="1989.3" cy="1369.5" rx="22.5" ry="18.5" fill="#fff" transform="rotate(35 1989.3 1369.5)"/>
<ellipse cx="2132.4" cy="1311.4" rx="17.8" ry="14" fill="#000"/>
<rect x="2152.0" y="1293.7" width="14.0" height="37.3" fill="#000"/>
<rect x="1497.0" y="1513.0" width="201.8" height="162.5" fill="#231f20"/>
<rect x="1526.0" y="1529.6" width="132.6" height="125.8" fill="#000"/>
<rect x="1512.0" y="1551.0" width="15.0" height="87.6" fill="#fff" stroke="#555" stroke-width="1" stroke-dasharray="7 4"/>
<rect x="1657.0" y="1551.0" width="15.0" height="87.6" fill="#fff" stroke="#555" stroke-width="1" stroke-dasharray="7 4"/>
<rect x="1204.4" y="1539.4" width="218.0" height="115.1" fill="#000"/>
<rect x="1207.7" y="1506.7" width="212.3" height="22.0" fill="#000"/>
<rect x="1207.7" y="1664.3" width="212.3" height="22.0" fill="#000"/>
<rect x="1188.5" y="1579.0" width="11.2" height="41.0" fill="#000"/>
<rect x="1431.0" y="1579.0" width="12.0" height="41.0" fill="#000"/>
<rect x="1970.5" y="1407.5" width="86.5" height="69.7" fill="#000"/>
<rect x="2064.5" y="1415.5" width="54.3" height="38.3" fill="#000"/>
<path d="M1809 1586 H1898 V1699.9 H2107.6 V1789.7 H1809 Z" fill="#000"/>
<rect x="1943.0" y="1610.0" width="122.0" height="57.6" fill="#000"/>
<rect x="2119.3" y="1732.6" width="49.1" height="35.1" fill="#000"/>
<rect x="2194.6" y="1484.7" width="56.4" height="161.3" fill="#000"/>
<rect x="1144.0" y="1800.0" width="348.0" height="10.7" fill="#fff" stroke="#3a3a3a" stroke-width="1.2" stroke-dasharray="9 5"/>
<line x1="1252.0" y1="1800.0" x2="1252.0" y2="1810.7" stroke="#555" stroke-width="1"/>
<rect x="1625.8" y="1800.0" width="555.7" height="10.7" fill="#fff" stroke="#3a3a3a" stroke-width="1.2" stroke-dasharray="9 5"/>
<line x1="1690.0" y1="1800.0" x2="1690.0" y2="1810.7" stroke="#555" stroke-width="1"/>
<line x1="1771.7" y1="1800.0" x2="1771.7" y2="1810.7" stroke="#555" stroke-width="1"/>
<line x1="1832.6" y1="1800.0" x2="1832.6" y2="1810.7" stroke="#555" stroke-width="1"/>
<line x1="1940.0" y1="1800.0" x2="1940.0" y2="1810.7" stroke="#555" stroke-width="1"/>
<rect x="2314.0" y="1797.6" width="348.8" height="10.8" fill="#fff" stroke="#3a3a3a" stroke-width="1.2" stroke-dasharray="9 5"/>
<line x1="2422.0" y1="1797.6" x2="2422.0" y2="1808.4" stroke="#555" stroke-width="1"/>
<rect x="2717.0" y="1665.7" width="10.3" height="107.6" fill="#fff" stroke="#3a3a3a" stroke-width="1.2" stroke-dasharray="9 5"/>
<line x1="1763.8" y1="1729.8" x2="1763.8" y2="1800.0" stroke="#000" stroke-width="1.8"/>
<line x1="1743.7" y1="1732.6" x2="1763.8" y2="1729.8" stroke="#000" stroke-width="1.6"/>
<path d="M1743.7 1732.6 A68 68 0 0 0 1699.3 1794.3" fill="none" stroke="#000" stroke-width="1.5" stroke-dasharray="22 18"/>
<line x1="2255.0" y1="1178.0" x2="2255.0" y2="1805.0" stroke="#333" stroke-width="1.2"/>
<line x1="2722.5" y1="1133.0" x2="2722.5" y2="1512.0" stroke="#333" stroke-width="1.2"/>
<rect x="2257.0" y="1136.0" width="80.7" height="39.8" fill="none" stroke="#888" stroke-width="1"/>
<line x1="2255.0" y1="1304.0" x2="2255.0" y2="1388.0" stroke="#fff" stroke-width="3"/>
<line x1="2255.0" y1="1318.0" x2="2255.0" y2="1381.0" stroke="#000" stroke-width="1.4"/>
<path d="M2255 1311 l-4.5 10 l4.5 -3 l4.5 3 z" fill="#000"/>
<line x1="2255.0" y1="1191.0" x2="2322.7" y2="1191.0" stroke="#000" stroke-width="1.6"/>
<path d="M2322.7 1191 A66 64 0 0 1 2258.7 1254.4" fill="none" stroke="#000" stroke-width="1.5" stroke-dasharray="22 18"/>
<rect x="2415.3" y="1143.5" width="147.4" height="44.5" fill="#000"/>
<circle cx="2484" cy="1218.8" r="14.5" fill="#231f20"/>
<path d="M2344.7 1367 V1287 H2406 L2443 1259 L2479.4 1287 M2499 1287 L2534.6 1259 L2571.6 1287 H2639.8 V1367 M2344.7 1442 V1472.5 H2639.8 V1442" fill="none" stroke="#333" stroke-width="1.1"/>
<line x1="2406.0" y1="1287.0" x2="2571.6" y2="1287.0" stroke="#ccc" stroke-width="1"/>
<rect x="2400.0" y="1480.4" width="186.3" height="208.1" fill="#000"/>
<rect x="2349.7" y="1480.4" width="45.3" height="32.6" fill="#000"/>
<rect x="2591.0" y="1480.4" width="45.0" height="30.6" fill="#000"/>
<rect x="2405.8" y="1693.0" width="174.9" height="30.0" fill="#fff" stroke="#333" stroke-width="1"/>
<line x1="2405.8" y1="1699.0" x2="2580.7" y2="1699.0" stroke="#333" stroke-width="1"/>
<line x1="2405.8" y1="1705.0" x2="2580.7" y2="1705.0" stroke="#333" stroke-width="1"/>
<line x1="2405.8" y1="1711.0" x2="2580.7" y2="1711.0" stroke="#333" stroke-width="1"/>
<line x1="2405.8" y1="1717.0" x2="2580.7" y2="1717.0" stroke="#333" stroke-width="1"/>
<path d="M2292.3 1688 L2364 1753 L2328.8 1791 L2257 1724 Z" fill="#000"/>
<rect x="2721.7" y="1131.0" width="331.3" height="61.0" fill="#000"/>
<rect x="2998.6" y="1131.0" width="54.4" height="290.0" fill="#000"/>
<rect x="2920.0" y="1299.0" width="133.0" height="122.0" fill="#000"/>
<ellipse cx="2798.4" cy="1168.8" rx="23.4" ry="17.8" fill="#fff"/>
<ellipse cx="2876.5" cy="1168.8" rx="23.4" ry="17.8" fill="#fff"/>
<rect x="2920.5" y="1192.0" width="78.1" height="106.0" fill="#e6e6e6"/>
<path d="M2920.5 1192 V1298 M2956.5 1192 V1298 M2998 1192 V1298" fill="none" stroke="#777" stroke-width="1.2" stroke-dasharray="9 5"/>
<line x1="2920.5" y1="1192.5" x2="2998.6" y2="1192.5" stroke="#777" stroke-width="1.2" stroke-dasharray="9 5"/>
<circle cx="2986.7" cy="1360" r="52.6" fill="#fff"/>
<line x1="2721.7" y1="1254.4" x2="2780.0" y2="1254.4" stroke="#000" stroke-width="1.6"/>
<path d="M2725 1197.8 A57 57 0 0 1 2780 1254" fill="none" stroke="#000" stroke-width="1.5" stroke-dasharray="20 16"/>
<rect x="2722.5" y="1276.4" width="96.0" height="85.6" fill="#fff" stroke="#aaa" stroke-width="1"/>
<line x1="2724.5" y1="1290.0" x2="2724.5" y2="1350.0" stroke="#000" stroke-width="1.2"/>
<path d="M2724.5 1355 l-4 -9 l4 2.5 l4 -2.5 z" fill="#000"/>
<rect x="2722.5" y="1374.5" width="107.5" height="140.4" fill="#000"/>
<rect x="2731.8" y="1382.7" width="87.7" height="123.7" fill="#fff"/>
<rect x="2819.0" y="1436.0" width="13.0" height="74.6" fill="#fff"/>
<path d="M2731.8 1382.7 L2819.5 1506 M2819.5 1382.7 L2731.8 1506" fill="none" stroke="#222" stroke-width="1"/>
<path d="M2731.8 1506 V1382.7 H2819.5" fill="none" stroke="#222" stroke-width="1"/>
<line x1="2731.8" y1="1506.0" x2="2830.0" y2="1506.0" stroke="#444" stroke-width="1" stroke-dasharray="7 4"/>
<rect x="2828.0" y="1510.6" width="107.5" height="4.3" fill="#000"/>
<rect x="2935.5" y="1506.0" width="102.5" height="10.7" fill="#fff" stroke="#3a3a3a" stroke-width="1.2" stroke-dasharray="9 5"/>
<path d="M3038 1513 H3050.8 V1500.5" fill="none" stroke="#000" stroke-width="4.4"/>
<rect x="3045.6" y="1418.0" width="9.4" height="82.5" fill="#fff" stroke="#3a3a3a" stroke-width="1.2" stroke-dasharray="9 5"/>
<rect x="2968.5" y="1425.6" width="38.3" height="13.1" fill="#000"/>
<ellipse cx="2987" cy="1459.3" rx="14" ry="16.8" fill="#000"/>
<line x1="2852.5" y1="1396.6" x2="2861.8" y2="1594.0" stroke="#555" stroke-width="1"/>
<line x1="2993.7" y1="1359.0" x2="3003.6" y2="1557.5" stroke="#555" stroke-width="1"/>
<rect x="2777.8" y="1104.7" width="124.9" height="21.0" fill="#000"/>
<path d="M2780 1104 A108 108 0 0 1 2876 997" fill="none" stroke="#000" stroke-width="1.8" stroke-dasharray="34 22"/>
<rect x="2960.0" y="1045.8" width="202.6" height="13.1" fill="#e8702a"/>
<path d="M2874 1052 Q2931 1029 2977.3 995.5 Q2952 1052 2977.3 1109.2 Q2931 1075 2874 1052 Z" fill="#e8702a"/>
<path d="M269 1986 V1377 H842" fill="none" stroke="#000" stroke-width="3.4" stroke-linejoin="miter" stroke-linecap="butt"/>
<path d="M843.3 1377 V1488 H863" fill="none" stroke="#000" stroke-width="5" stroke-linejoin="miter" stroke-linecap="butt"/>
<path d="M267 1985 H845" fill="none" stroke="#000" stroke-width="5" stroke-linejoin="miter" stroke-linecap="butt"/>
<line x1="843.3" y1="1488.0" x2="843.3" y2="1530.0" stroke="#333" stroke-width="1.2"/>
<line x1="843.3" y1="1605.0" x2="843.3" y2="1985.0" stroke="#333" stroke-width="1.2"/>
<rect x="279.0" y="1371.0" width="107.8" height="11.7" fill="#fff" stroke="#3a3a3a" stroke-width="1.2" stroke-dasharray="9 5"/>
<rect x="721.7" y="1371.0" width="107.6" height="11.7" fill="#fff" stroke="#3a3a3a" stroke-width="1.2" stroke-dasharray="9 5"/>
<rect x="267.5" y="1694.7" width="11.5" height="107.6" fill="#fff" stroke="#3a3a3a" stroke-width="1.2" stroke-dasharray="9 5"/>
<rect x="394.3" y="1979.5" width="348.0" height="11.5" fill="#fff" stroke="#3a3a3a" stroke-width="1.2" stroke-dasharray="9 5"/>
<line x1="502.0" y1="1979.5" x2="502.0" y2="1991.0" stroke="#555" stroke-width="1"/>
<rect x="838.6" y="1857.5" width="11.3" height="107.5" fill="#fff" stroke="#3a3a3a" stroke-width="1.2" stroke-dasharray="9 5"/>
<rect x="270.5" y="1378.7" width="433.5" height="109.3" fill="#e4e4e4"/>
<line x1="386.8" y1="1379.0" x2="386.8" y2="1488.0" stroke="#333" stroke-width="1.2" stroke-dasharray="15 6"/>
<line x1="422.4" y1="1379.0" x2="422.4" y2="1488.0" stroke="#333" stroke-width="1.2" stroke-dasharray="15 6"/>
<line x1="457.4" y1="1379.0" x2="457.4" y2="1488.0" stroke="#333" stroke-width="1.2" stroke-dasharray="15 6"/>
<line x1="492.5" y1="1379.0" x2="492.5" y2="1488.0" stroke="#333" stroke-width="1.2" stroke-dasharray="15 6"/>
<line x1="528.0" y1="1379.0" x2="528.0" y2="1488.0" stroke="#333" stroke-width="1.2" stroke-dasharray="15 6"/>
<line x1="563.6" y1="1379.0" x2="563.6" y2="1488.0" stroke="#333" stroke-width="1.2" stroke-dasharray="15 6"/>
<line x1="598.7" y1="1379.0" x2="598.7" y2="1488.0" stroke="#333" stroke-width="1.2" stroke-dasharray="15 6"/>
<line x1="633.8" y1="1379.0" x2="633.8" y2="1488.0" stroke="#333" stroke-width="1.2" stroke-dasharray="15 6"/>
<line x1="669.3" y1="1379.0" x2="669.3" y2="1488.0" stroke="#333" stroke-width="1.2" stroke-dasharray="15 6"/>
<line x1="704.0" y1="1379.0" x2="704.0" y2="1488.0" stroke="#333" stroke-width="1.2" stroke-dasharray="15 6"/>
<line x1="269.0" y1="1488.0" x2="704.0" y2="1488.0" stroke="#333" stroke-width="1.2"/>
<line x1="704.0" y1="1488.0" x2="704.0" y2="1661.0" stroke="#333" stroke-width="1.2"/>
<line x1="269.0" y1="1620.8" x2="457.4" y2="1620.8" stroke="#333" stroke-width="1.2"/>
<rect x="457.4" y="1489.0" width="88.4" height="170.6" fill="#000"/>
<rect x="471.0" y="1501.0" width="66.0" height="145.0" fill="#fff" rx="33"/>
<rect x="562.7" y="1500.6" width="39.3" height="13.1" fill="#000"/>
<ellipse cx="582.3" cy="1533.8" rx="15" ry="17.8" fill="#000"/>
<rect x="616.0" y="1490.3" width="86.5" height="80.9" fill="#000"/>
<line x1="457.4" y1="1660.6" x2="741.3" y2="1660.6" stroke="#333" stroke-width="1.2"/>
<line x1="760.0" y1="1659.6" x2="843.0" y2="1659.6" stroke="#000" stroke-width="1.4"/>
<path d="M748.4 1659.6 l12 -5.5 l-3 5.5 l3 5.5 z" fill="#000"/>
<line x1="652.5" y1="1651.7" x2="704.0" y2="1651.7" stroke="#000" stroke-width="1.6"/>
<path d="M703 1602.6 A50 49 0 0 0 652.5 1651.7" fill="none" stroke="#000" stroke-width="1.5" stroke-dasharray="20 14"/>
<line x1="770.3" y1="1605.0" x2="843.0" y2="1605.0" stroke="#000" stroke-width="1.6"/>
<path d="M842 1537 A72 68 0 0 0 770.3 1605" fill="none" stroke="#000" stroke-width="1.5" stroke-dasharray="22 16"/>
<rect x="547.2" y="1677.4" width="186.2" height="206.6" fill="#000"/>
<rect x="514.0" y="1677.4" width="31.8" height="22.0" fill="#000"/>
<rect x="735.7" y="1677.4" width="32.3" height="22.0" fill="#000"/>
<rect x="552.9" y="1889.3" width="175.4" height="29.9" fill="#fff" stroke="#333" stroke-width="1"/>
<line x1="552.9" y1="1895.3" x2="728.3" y2="1895.3" stroke="#333" stroke-width="1"/>
<line x1="552.9" y1="1901.3" x2="728.3" y2="1901.3" stroke="#333" stroke-width="1"/>
<line x1="552.9" y1="1907.3" x2="728.3" y2="1907.3" stroke="#333" stroke-width="1"/>
<line x1="552.9" y1="1913.3" x2="728.3" y2="1913.3" stroke="#333" stroke-width="1"/>
<rect x="279.2" y="1823.8" width="33.8" height="103.9" fill="#000"/>
<rect x="863.0" y="1482.0" width="190.3" height="13.0" fill="#fff" stroke="#3a3a3a" stroke-width="1.2" stroke-dasharray="9 5"/>
<line x1="914.0" y1="1482.0" x2="914.0" y2="1495.0" stroke="#555" stroke-width="1"/>
<line x1="992.5" y1="1482.0" x2="992.5" y2="1495.0" stroke="#555" stroke-width="1"/>
<line x1="922.8" y1="1420.0" x2="922.8" y2="1488.0" stroke="#000" stroke-width="1.8"/>
<path d="M922.8 1420 A64 66 0 0 1 987 1483" fill="none" stroke="#000" stroke-width="1.5" stroke-dasharray="22 16"/>
<path d="M843 1724 H855" fill="none" stroke="#000" stroke-width="5" stroke-linejoin="miter" stroke-linecap="butt"/>
<rect x="855.0" y="1722.8" width="189.4" height="13.2" fill="#fff" stroke="#3a3a3a" stroke-width="1.2" stroke-dasharray="9 5"/>
<line x1="908.0" y1="1722.8" x2="908.0" y2="1736.0" stroke="#555" stroke-width="1"/>
<line x1="985.0" y1="1722.8" x2="985.0" y2="1736.0" stroke="#555" stroke-width="1"/>
<line x1="922.8" y1="1655.0" x2="922.8" y2="1724.0" stroke="#000" stroke-width="1.8"/>
<path d="M922.8 1655 A64 66 0 0 1 987 1719.5" fill="none" stroke="#000" stroke-width="1.5" stroke-dasharray="22 16"/>
<line x1="1060.2" y1="1496.0" x2="1060.2" y2="1555.0" stroke="#555" stroke-width="1.1"/>
<line x1="1060.2" y1="1662.0" x2="1060.2" y2="1722.0" stroke="#555" stroke-width="1.1"/>
<path d="M1060 1555 L1102 1496.4 L1116 1509" fill="none" stroke="#000" stroke-width="1.6"/>
<path d="M1116 1509 Q1138 1548 1124 1588" fill="none" stroke="#000" stroke-width="1.4" stroke-dasharray="20 14"/>
<path d="M1060 1663.4 L1102 1722.8 L1116 1710" fill="none" stroke="#000" stroke-width="1.6"/>
<path d="M1116 1710 Q1138 1672 1119 1628" fill="none" stroke="#000" stroke-width="1.4" stroke-dasharray="20 14"/>
<line x1="1254.0" y1="937.0" x2="1347.0" y2="937.0" stroke="#000" stroke-width="1.6"/>
<path d="M1243 937 l14 -6.5 l-4 6.5 l4 6.5 z" fill="#000"/>
<line x1="3037.6" y1="819.4" x2="3150.0" y2="819.4" stroke="#000" stroke-width="2.8"/>
<path d="M3166.5 819.4 l-29 -15.5 l9 15.5 l-9 15.5 z" fill="#000"/>
<text x="446.7" y="449.1" font-size="52.0" textLength="208.0" lengthAdjust="spacingAndGlyphs" fill="#000" font-weight="bold" stroke="#000" stroke-width="1.74" stroke-linejoin="miter">FIREPOT</text>
<text x="1331.6" y="648.1" font-size="51.3" textLength="525.5" lengthAdjust="spacingAndGlyphs" fill="#000" font-weight="bold" stroke="#000" stroke-width="1.72" stroke-linejoin="miter" style="word-spacing:-0.06em;">PRIVATE COURTYARD</text>
<text x="2038.6" y="829.7" font-size="51.3" textLength="525.2" lengthAdjust="spacingAndGlyphs" fill="#000" font-weight="bold" stroke="#000" stroke-width="1.72" stroke-linejoin="miter" style="word-spacing:-0.06em;">PRIVATE COURTYARD</text>
<text x="2685.6" y="301.3" font-size="54.4" textLength="138.1" lengthAdjust="spacingAndGlyphs" fill="#000" style="word-spacing:-0.09em;">2 CAR</text>
<text x="2685.7" y="366.5" font-size="54.2" textLength="196.7" lengthAdjust="spacingAndGlyphs" fill="#000">GARAGE</text>
<text x="486.4" y="1000.6" font-size="53.8" textLength="127.6" lengthAdjust="spacingAndGlyphs" fill="#000">DECK</text>
<text x="1222.2" y="877.5" font-size="53.8" textLength="128.3" lengthAdjust="spacingAndGlyphs" fill="#000">DECK</text>
<text x="2102.9" y="1076.0" font-size="53.8" textLength="633.8" lengthAdjust="spacingAndGlyphs" fill="#000" style="word-spacing:-0.09em;">EXTERIOR ENTRY WALKWAY</text>
<text x="2997.2" y="787.0" font-size="53.8" textLength="208.3" lengthAdjust="spacingAndGlyphs" fill="#000">PARKING</text>
<text x="1107.8" y="1929.0" font-size="53.8" textLength="291.7" lengthAdjust="spacingAndGlyphs" fill="#000" style="word-spacing:-0.09em;">UPPER DECK</text>
<text x="1926.8" y="2010.0" font-size="53.8" textLength="416.8" lengthAdjust="spacingAndGlyphs" fill="#000" style="word-spacing:-0.09em;">WALKWAY &amp; YARD</text>
<text x="947.3" y="2078.6" font-size="53.8" textLength="586.8" lengthAdjust="spacingAndGlyphs" fill="#000" style="word-spacing:-0.09em;">EXTERIOR STEPS TO YARD</text>
<text x="295.5" y="1447.6" font-size="53.8" textLength="368.5" lengthAdjust="spacingAndGlyphs" fill="#000" style="word-spacing:-0.09em;">INTERIOR STEPS</text>
<text x="2977.7" y="1602.8" font-size="44.8" textLength="191.5" lengthAdjust="spacingAndGlyphs" fill="#000">JAPANESE</text>
<text x="2985.4" y="1657.6" font-size="44.5" textLength="178.2" lengthAdjust="spacingAndGlyphs" fill="#000">SOAKING</text>
<text x="3033.5" y="1712.8" font-size="44.5" textLength="78.9" lengthAdjust="spacingAndGlyphs" fill="#000">TUB</text>
<text x="2733.2" y="1341.8" font-size="41.4" textLength="81.8" lengthAdjust="spacingAndGlyphs" fill="#000">W/D</text>
<text x="1661.3" y="1194.5" font-size="25.9" textLength="166.7" lengthAdjust="spacingAndGlyphs" fill="#000">REFRIGERATOR</text>
<text x="1212.9" y="1332.5" font-size="25.4" textLength="49.6" lengthAdjust="spacingAndGlyphs" fill="#000">WET</text>
<text x="1212.2" y="1364.7" font-size="25.4" textLength="45.9" lengthAdjust="spacingAndGlyphs" fill="#000">BAR</text>
<text x="1302.2" y="1332.5" font-size="25.4" textLength="88.8" lengthAdjust="spacingAndGlyphs" fill="#000">PANTRY</text>
<text x="1968.7" y="1303.0" font-size="25.1" textLength="103.0" lengthAdjust="spacingAndGlyphs" fill="#000" style="word-spacing:-0.09em;">1/2 BATH</text>
<text x="2442.9" y="1332.5" font-size="25.4" textLength="86.1" lengthAdjust="spacingAndGlyphs" fill="#000">CLOSET</text>
<text x="2743.8" y="1473.3" font-size="27.2" textLength="118.4" lengthAdjust="spacingAndGlyphs" fill="#000">SHOWER</text>
<text x="320.2" y="1580.0" font-size="25.4" textLength="85.8" lengthAdjust="spacingAndGlyphs" fill="#000">CLOSET</text>
<text x="1484.1" y="1041.0" font-size="26.2" textLength="46.9" lengthAdjust="spacingAndGlyphs" fill="#fff">BAR</text>
<text x="1196.5" y="1121.5" font-size="25.7" textLength="69.4" lengthAdjust="spacingAndGlyphs" fill="#fff">TABLE</text>
<text x="1613.3" y="1355.0" font-size="26.2" textLength="85.8" lengthAdjust="spacingAndGlyphs" fill="#fff">ISLAND</text>
<text x="2421.5" y="1171.0" font-size="26.2" textLength="131.4" lengthAdjust="spacingAndGlyphs" fill="#fff">TURNTABLE</text>
<text x="2459.0" y="1555.7" font-size="24.7" textLength="58.8" lengthAdjust="spacingAndGlyphs" fill="#fff">KING</text>
<text x="2464.8" y="1588.0" font-size="24.7" textLength="46.3" lengthAdjust="spacingAndGlyphs" fill="#fff">BED</text>
<text x="607.1" y="1751.3" font-size="24.7" textLength="57.5" lengthAdjust="spacingAndGlyphs" fill="#fff">KING</text>
<text x="612.2" y="1783.6" font-size="24.7" textLength="45.9" lengthAdjust="spacingAndGlyphs" fill="#fff">BED</text>
<text x="1231.9" y="1605.8" font-size="26.2" textLength="163.0" lengthAdjust="spacingAndGlyphs" fill="#fff" style="word-spacing:-0.09em;">DINING ROOM</text>
<text x="1548.5" y="1586.0" font-size="25.6" textLength="90.1" lengthAdjust="spacingAndGlyphs" fill="#fff">2-SIDED</text>
<text x="1533.7" y="1618.0" font-size="25.6" textLength="119.7" lengthAdjust="spacingAndGlyphs" fill="#fff">FIREPLACE</text>
<text x="1978.8" y="1449.0" font-size="25.4" textLength="71.2" lengthAdjust="spacingAndGlyphs" fill="#fff">CHAIR</text>
<text x="1881.1" y="1754.6" font-size="25.4" textLength="174.6" lengthAdjust="spacingAndGlyphs" fill="#fff" style="word-spacing:-0.09em;">FOLDOUT SOFA</text>
<text x="1969.1" y="1649.3" font-size="25.4" textLength="67.8" lengthAdjust="spacingAndGlyphs" fill="#fff">TABLE</text>
<text x="2206.4" y="1575.0" font-size="25.4" textLength="31.7" lengthAdjust="spacingAndGlyphs" fill="#fff">TV</text>
<text x="1589.7" y="1114.0" font-size="49.7" textLength="217.8" lengthAdjust="spacingAndGlyphs" fill="#3577a8" font-weight="bold" stroke="#3577a8" stroke-width="2.50" stroke-linejoin="miter">KITCHEN</text>
<text x="1873.7" y="1029.2" font-size="49.7" textLength="160.6" lengthAdjust="spacingAndGlyphs" fill="#3577a8" font-weight="bold" stroke="#3577a8" stroke-width="2.50" stroke-linejoin="miter">FOYER</text>
<text x="2297.9" y="1424.5" font-size="49.7" textLength="382.2" lengthAdjust="spacingAndGlyphs" fill="#3577a8" font-weight="bold" stroke="#3577a8" stroke-width="2.50" stroke-linejoin="miter" style="word-spacing:-0.06em;">PRIMARY SUITE</text>
<text x="2732.5" y="1637.5" font-size="49.7" textLength="220.0" lengthAdjust="spacingAndGlyphs" fill="#3577a8" font-weight="bold" stroke="#3577a8" stroke-width="2.50" stroke-linejoin="miter" style="word-spacing:-0.06em;">EN SUITE</text>
<text x="2777.1" y="1703.0" font-size="49.7" textLength="130.8" lengthAdjust="spacingAndGlyphs" fill="#3577a8" font-weight="bold" stroke="#3577a8" stroke-width="2.50" stroke-linejoin="miter">BATH</text>
<text x="1711.3" y="1493.5" font-size="49.7" textLength="205.9" lengthAdjust="spacingAndGlyphs" fill="#3577a8" font-weight="bold" stroke="#3577a8" stroke-width="2.50" stroke-linejoin="miter">SUNKEN</text>
<text x="1746.2" y="1543.0" font-size="49.7" textLength="340.9" lengthAdjust="spacingAndGlyphs" fill="#3577a8" font-weight="bold" stroke="#3577a8" stroke-width="2.50" stroke-linejoin="miter" style="word-spacing:-0.06em;">LIVING ROOM</text>
<text x="1152.6" y="1762.2" font-size="49.7" textLength="352.6" lengthAdjust="spacingAndGlyphs" fill="#3577a8" font-weight="bold" stroke="#3577a8" stroke-width="2.50" stroke-linejoin="miter" style="word-spacing:-0.06em;">DINING ROOM</text>
<text x="846.1" y="1608.8" font-size="49.7" textLength="297.0" lengthAdjust="spacingAndGlyphs" fill="#3577a8" font-weight="bold" stroke="#3577a8" stroke-width="2.50" stroke-linejoin="miter">BREEZEWAY</text>
<text x="363.5" y="1961.8" font-size="49.7" textLength="436.5" lengthAdjust="spacingAndGlyphs" fill="#3577a8" font-weight="bold" stroke="#3577a8" stroke-width="2.50" stroke-linejoin="miter" style="word-spacing:-0.06em;">GUEST BEDROOM</text>
<rect x="1006.8" y="189.8" width="1579.5" height="279.8" fill="#fff" stroke="#000" stroke-width="4.2"/>
<rect x="1022.0" y="205.0" width="1548.0" height="249.0" fill="#25345a"/>
<defs><filter id="sh" x="-5%" y="-20%" width="110%" height="140%"><feGaussianBlur in="SourceAlpha" stdDeviation="4.6"/><feOffset dx="-0.8" dy="1.2" result="o"/><feFlood flood-color="#0a1230" flood-opacity="0.95"/><feComposite in2="o" operator="in"/><feMerge><feMergeNode/><feMergeNode/><feMergeNode/><feMergeNode/><feMergeNode in="SourceGraphic"/></feMerge></filter></defs>
<g filter="url(#sh)">
<text x="1057.6" y="366.8" font-size="123.5" textLength="300.8" lengthAdjust="spacingAndGlyphs" fill="#fff59b" font-weight="bold" stroke="#fff59b" stroke-width="3.00" stroke-linejoin="miter">MAIN</text>
<text x="1385.5" y="366.8" font-size="123.5" textLength="365.1" lengthAdjust="spacingAndGlyphs" fill="#fff59b" font-weight="bold" stroke="#fff59b" stroke-width="3.00" stroke-linejoin="miter">FLOOR</text>
<text x="1777.5" y="366.8" font-size="123.5" textLength="39.3" lengthAdjust="spacingAndGlyphs" fill="#fff59b" font-weight="bold" stroke="#fff59b" stroke-width="3.00" stroke-linejoin="miter">-</text>
<text x="1840.2" y="366.8" font-size="123.5" textLength="430.3" lengthAdjust="spacingAndGlyphs" fill="#fff59b" font-weight="bold" stroke="#fff59b" stroke-width="3.00" stroke-linejoin="miter">DOUG’S</text>
<text x="2294.4" y="366.8" font-size="123.5" textLength="236.7" lengthAdjust="spacingAndGlyphs" fill="#fff59b" font-weight="bold" stroke="#fff59b" stroke-width="3.00" stroke-linejoin="miter">WAY</text>
</g>
<rect x="2505.0" y="1860.0" width="543.6" height="257.0" fill="#ccc" stroke="#000" stroke-width="2"/>
<text x="2800.8" y="1918.6" font-size="33.1" textLength="174.8" lengthAdjust="spacingAndGlyphs" fill="#000" style="word-spacing:-0.09em;">Pocket Door</text>
<text x="2803.3" y="1979.0" font-size="33.1" textLength="129.9" lengthAdjust="spacingAndGlyphs" fill="#000">Windows</text>
<text x="2803.1" y="2058.5" font-size="33.1" textLength="190.0" lengthAdjust="spacingAndGlyphs" fill="#000" style="word-spacing:-0.09em;">French Doors</text>
<line x1="2580.3" y1="1917.4" x2="2638.3" y2="1917.4" stroke="#000" stroke-width="2.2"/>
<line x1="2665.0" y1="1917.4" x2="2772.5" y2="1917.4" stroke="#000" stroke-width="2.2"/>
<path d="M2648 1917.4 l24 -12 l-7 12 l7 12 z" fill="#000"/>
<rect x="2583.5" y="1962.8" width="189.0" height="15.0" fill="#fff"/>
<line x1="2583.5" y1="1962.8" x2="2772.5" y2="1962.8" stroke="#222" stroke-width="1.6" stroke-dasharray="17 8"/>
<line x1="2583.5" y1="1977.8" x2="2772.5" y2="1977.8" stroke="#222" stroke-width="1.6" stroke-dasharray="17 8"/>
<rect x="2578.0" y="2052.6" width="193.6" height="7.4" fill="#fff" stroke="#666" stroke-width="1" stroke-dasharray="8 4"/>
<path d="M2636.4 2052.6 L2604.6 2029.7 L2615 2018 M2721.5 2052.6 L2754.7 2029.7 L2744 2018" fill="none" stroke="#000" stroke-width="1.5"/>
<path d="M2615 2018 Q2640 2006 2668 2020 M2744 2018 Q2718 2006 2690 2020" fill="none" stroke="#000" stroke-width="1.4" stroke-dasharray="14 10"/>
</svg>
</body></html>
